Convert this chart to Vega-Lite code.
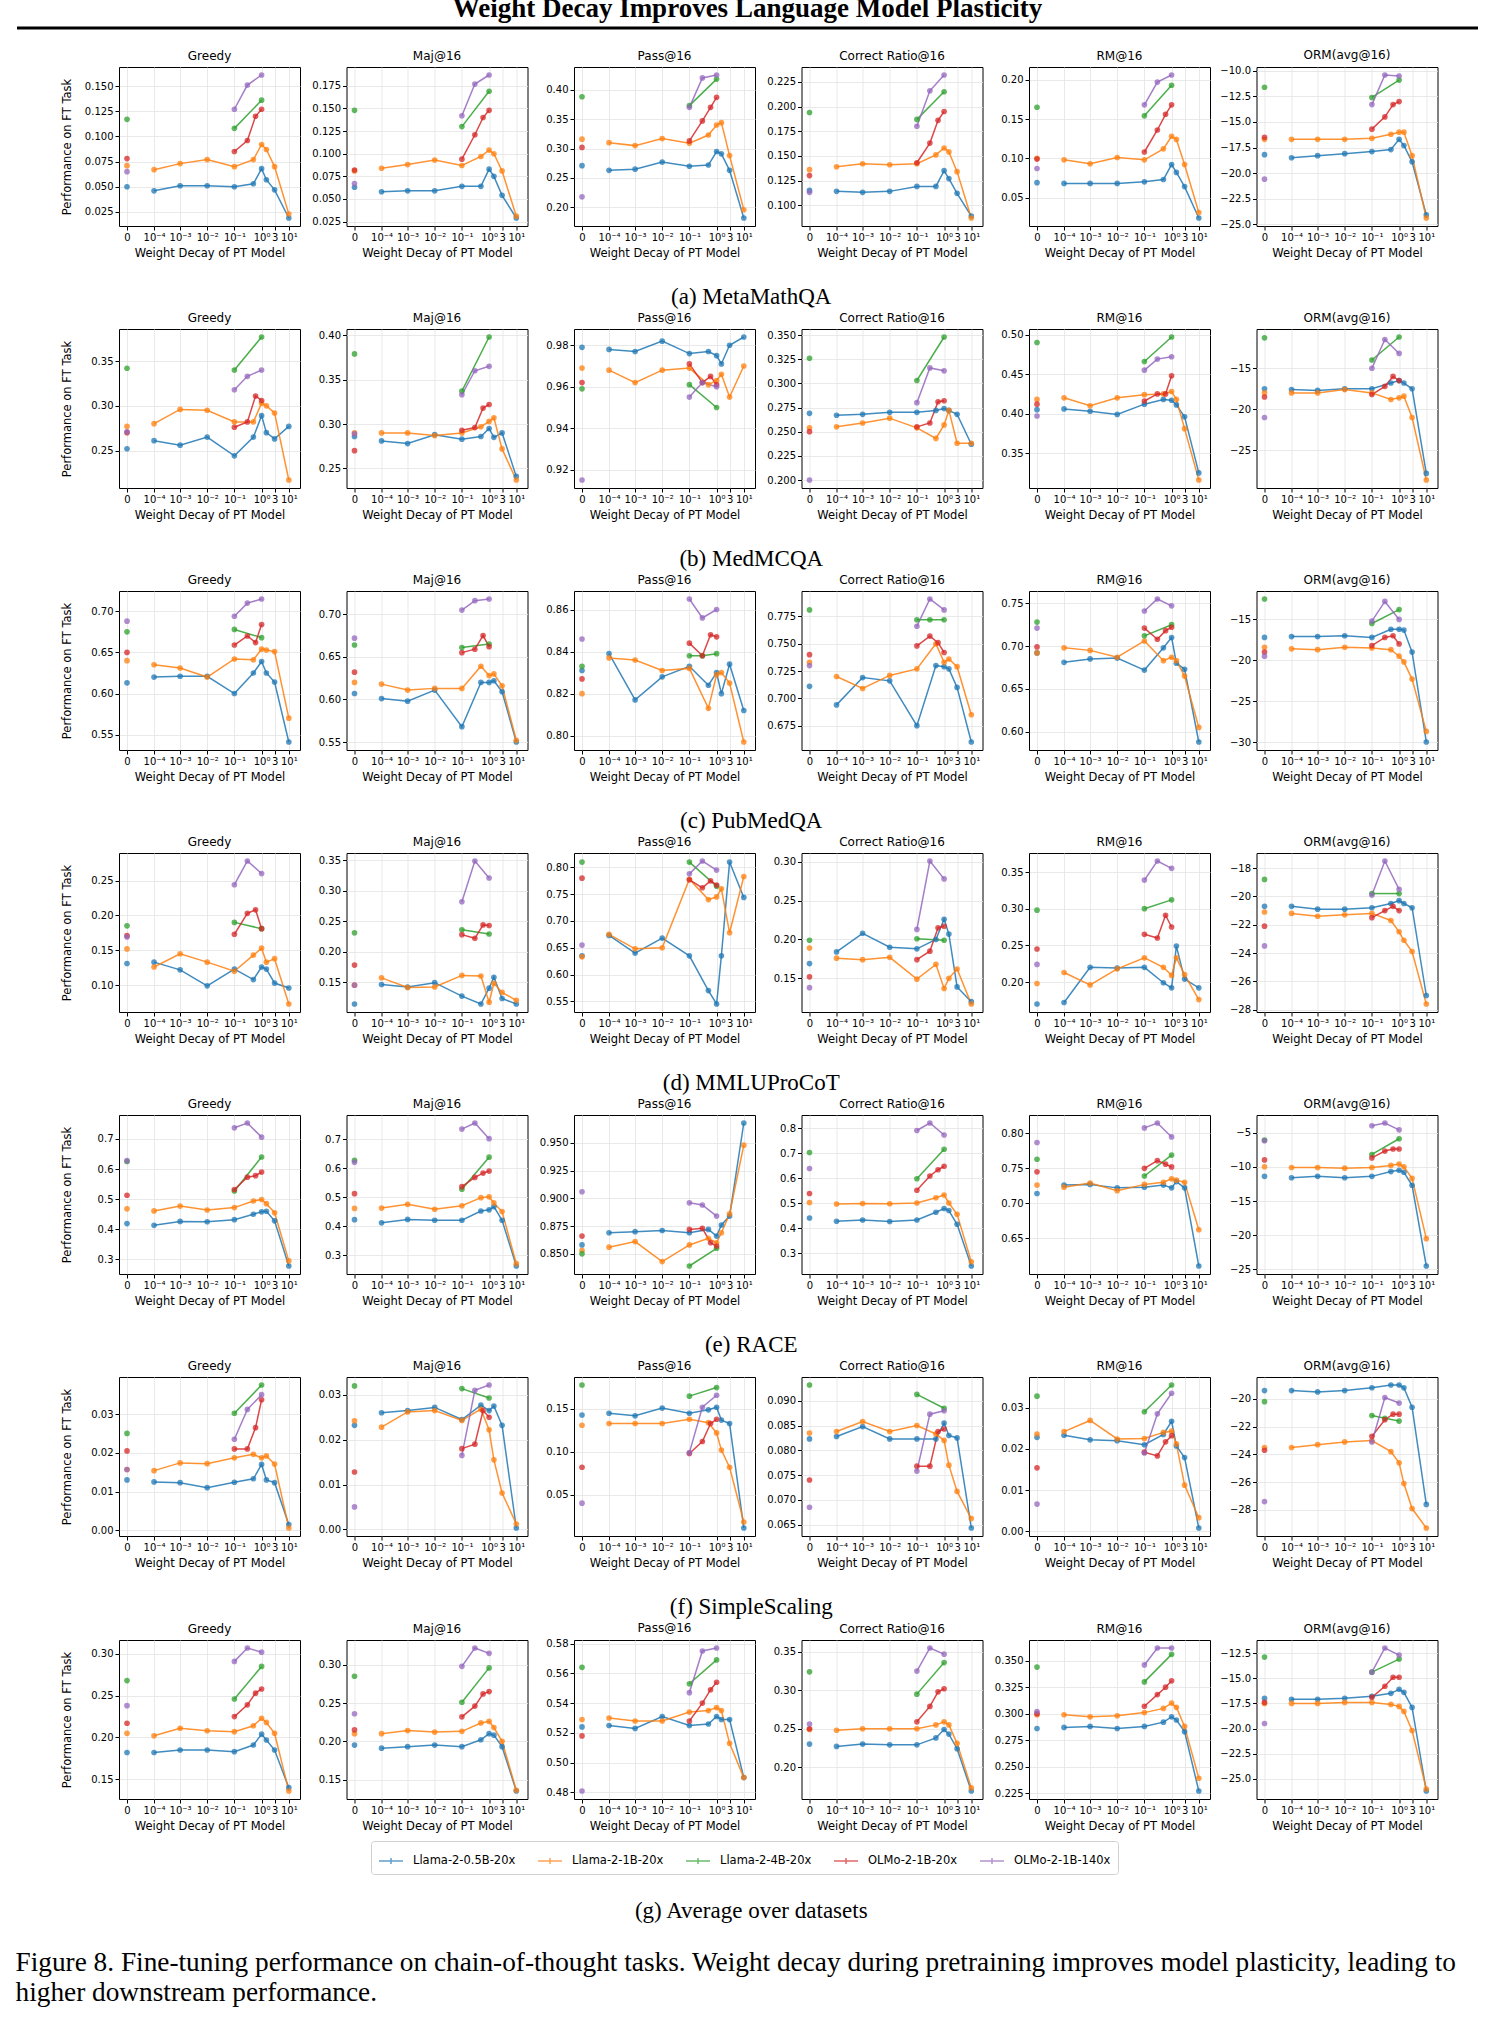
{
"$schema":"https://vega.github.io/schema/vega-lite/v6.json",
"padding":{"left":15,"top":-6,"right":8,"bottom":8},
"title":{"text":["Figure 8. Fine-tuning performance on chain-of-thought tasks. Weight decay during pretraining improves model plasticity, leading to","higher downstream performance."],"orient":"bottom","anchor":"start","frame":"bounds","font":"Liberation Serif","fontSize":27.3,"fontWeight":"normal","lineHeight":30,"offset":26,"color":"black"},
"vconcat":[{
"title":{"text":"Weight Decay Improves Language Model Plasticity","font":"Liberation Serif","fontSize":27,"fontWeight":"bold","anchor":"middle","offset":4,"color":"black"},
"spacing":2,
"vconcat":[
{"width":1461,"height":18,"data":{"values":[{}]},"mark":{"type":"rule","strokeWidth":3,"color":"black"},"encoding":{"x":{"datum":0,"type":"quantitative","scale":{"domain":[0,1]},"axis":null},"x2":{"datum":1},"y":{"datum":1,"type":"quantitative","scale":{"domain":[0,1]},"axis":null}},"view":{"stroke":null}},
{"spacing":0,"hconcat":[{"width":42.5,"height":159,"data":{"values":[]},"mark":"point","view":{"stroke":null}},
{"title":{"text":"(a) MetaMathQA","orient":"bottom","anchor":"middle","dx":2,"font":"Liberation Serif","fontSize":23,"fontWeight":"normal","offset":27,"color":"black"},"spacing":46.5,"bounds":"flush","hconcat":[
{"title":"Greedy","data":{"name":"a1"},"encoding":{"x":{"field":"w","type":"quantitative","scale":{"type":"symlog","constant":0.0000113,"domain":[-0.00001094,25.8]},"axis":{"values":[0,0.0001,0.001,0.01,0.1,1,3,10],"labelExpr":"datum.value==0?'0':datum.value==3?'3':'10'+['⁻⁴','⁻³','⁻²','⁻¹','⁰','¹'][round(log(datum.value)/LN10)+4]"},"title":"Weight Decay of PT Model"},"y":{"field":"v","type":"quantitative","scale":{"zero":false,"nice":false,"padding":8},"axis":{"values":[0.025,0.05,0.075,0.1,0.125,0.15],"format":".3f","titleX":-47},"title":"Performance on FT Task"},"color":{"field":"s","type":"nominal"}},"layer":[{"transform":[{"filter":"datum.w>0"}],"mark":"line"},{"mark":"circle"}]},
{"title":"Maj@16","data":{"name":"a2"},"encoding":{"x":{"field":"w","type":"quantitative","scale":{"type":"symlog","constant":0.0000113,"domain":[-0.00001094,25.8]},"axis":{"values":[0,0.0001,0.001,0.01,0.1,1,3,10],"labelExpr":"datum.value==0?'0':datum.value==3?'3':'10'+['⁻⁴','⁻³','⁻²','⁻¹','⁰','¹'][round(log(datum.value)/LN10)+4]"},"title":"Weight Decay of PT Model"},"y":{"field":"v","type":"quantitative","scale":{"zero":false,"nice":false,"padding":8},"axis":{"values":[0.025,0.05,0.075,0.1,0.125,0.15,0.175],"format":".3f"},"title":null},"color":{"field":"s","type":"nominal"}},"layer":[{"transform":[{"filter":"datum.w>0"}],"mark":"line"},{"mark":"circle"}]},
{"title":"Pass@16","data":{"name":"a3"},"encoding":{"x":{"field":"w","type":"quantitative","scale":{"type":"symlog","constant":0.0000113,"domain":[-0.00001094,25.8]},"axis":{"values":[0,0.0001,0.001,0.01,0.1,1,3,10],"labelExpr":"datum.value==0?'0':datum.value==3?'3':'10'+['⁻⁴','⁻³','⁻²','⁻¹','⁰','¹'][round(log(datum.value)/LN10)+4]"},"title":"Weight Decay of PT Model"},"y":{"field":"v","type":"quantitative","scale":{"zero":false,"nice":false,"padding":8},"axis":{"values":[0.2,0.25,0.3,0.35,0.4],"format":".2f"},"title":null},"color":{"field":"s","type":"nominal"}},"layer":[{"transform":[{"filter":"datum.w>0"}],"mark":"line"},{"mark":"circle"}]},
{"title":"Correct Ratio@16","data":{"name":"a4"},"encoding":{"x":{"field":"w","type":"quantitative","scale":{"type":"symlog","constant":0.0000113,"domain":[-0.00001094,25.8]},"axis":{"values":[0,0.0001,0.001,0.01,0.1,1,3,10],"labelExpr":"datum.value==0?'0':datum.value==3?'3':'10'+['⁻⁴','⁻³','⁻²','⁻¹','⁰','¹'][round(log(datum.value)/LN10)+4]"},"title":"Weight Decay of PT Model"},"y":{"field":"v","type":"quantitative","scale":{"zero":false,"nice":false,"padding":8},"axis":{"values":[0.1,0.125,0.15,0.175,0.2,0.225],"format":".3f"},"title":null},"color":{"field":"s","type":"nominal"}},"layer":[{"transform":[{"filter":"datum.w>0"}],"mark":"line"},{"mark":"circle"}]},
{"title":"RM@16","data":{"name":"a5"},"encoding":{"x":{"field":"w","type":"quantitative","scale":{"type":"symlog","constant":0.0000113,"domain":[-0.00001094,25.8]},"axis":{"values":[0,0.0001,0.001,0.01,0.1,1,3,10],"labelExpr":"datum.value==0?'0':datum.value==3?'3':'10'+['⁻⁴','⁻³','⁻²','⁻¹','⁰','¹'][round(log(datum.value)/LN10)+4]"},"title":"Weight Decay of PT Model"},"y":{"field":"v","type":"quantitative","scale":{"zero":false,"nice":false,"padding":8},"axis":{"values":[0.05,0.1,0.15,0.2],"format":".2f"},"title":null},"color":{"field":"s","type":"nominal"}},"layer":[{"transform":[{"filter":"datum.w>0"}],"mark":"line"},{"mark":"circle"}]},
{"title":"ORM(avg@16)","data":{"name":"a6"},"encoding":{"x":{"field":"w","type":"quantitative","scale":{"type":"symlog","constant":0.0000113,"domain":[-0.00001094,25.8]},"axis":{"values":[0,0.0001,0.001,0.01,0.1,1,3,10],"labelExpr":"datum.value==0?'0':datum.value==3?'3':'10'+['⁻⁴','⁻³','⁻²','⁻¹','⁰','¹'][round(log(datum.value)/LN10)+4]"},"title":"Weight Decay of PT Model"},"y":{"field":"v","type":"quantitative","scale":{"zero":false,"nice":false,"padding":8},"axis":{"values":[-25,-22.5,-20,-17.5,-15,-12.5,-10],"format":".1f"},"title":null},"color":{"field":"s","type":"nominal"}},"layer":[{"transform":[{"filter":"datum.w>0"}],"mark":"line"},{"mark":"circle"}]}
]}]},
{"spacing":0,"hconcat":[{"width":42.5,"height":159,"data":{"values":[]},"mark":"point","view":{"stroke":null}},
{"title":{"text":"(b) MedMCQA","orient":"bottom","anchor":"middle","dx":2,"font":"Liberation Serif","fontSize":23,"fontWeight":"normal","offset":27,"color":"black"},"spacing":46.5,"bounds":"flush","hconcat":[
{"title":"Greedy","data":{"name":"b1"},"encoding":{"x":{"field":"w","type":"quantitative","scale":{"type":"symlog","constant":0.0000113,"domain":[-0.00001094,25.8]},"axis":{"values":[0,0.0001,0.001,0.01,0.1,1,3,10],"labelExpr":"datum.value==0?'0':datum.value==3?'3':'10'+['⁻⁴','⁻³','⁻²','⁻¹','⁰','¹'][round(log(datum.value)/LN10)+4]"},"title":"Weight Decay of PT Model"},"y":{"field":"v","type":"quantitative","scale":{"zero":false,"nice":false,"padding":8},"axis":{"values":[0.25,0.3,0.35],"format":".2f","titleX":-47},"title":"Performance on FT Task"},"color":{"field":"s","type":"nominal"}},"layer":[{"transform":[{"filter":"datum.w>0"}],"mark":"line"},{"mark":"circle"}]},
{"title":"Maj@16","data":{"name":"b2"},"encoding":{"x":{"field":"w","type":"quantitative","scale":{"type":"symlog","constant":0.0000113,"domain":[-0.00001094,25.8]},"axis":{"values":[0,0.0001,0.001,0.01,0.1,1,3,10],"labelExpr":"datum.value==0?'0':datum.value==3?'3':'10'+['⁻⁴','⁻³','⁻²','⁻¹','⁰','¹'][round(log(datum.value)/LN10)+4]"},"title":"Weight Decay of PT Model"},"y":{"field":"v","type":"quantitative","scale":{"zero":false,"nice":false,"padding":8},"axis":{"values":[0.25,0.3,0.35,0.4],"format":".2f"},"title":null},"color":{"field":"s","type":"nominal"}},"layer":[{"transform":[{"filter":"datum.w>0"}],"mark":"line"},{"mark":"circle"}]},
{"title":"Pass@16","data":{"name":"b3"},"encoding":{"x":{"field":"w","type":"quantitative","scale":{"type":"symlog","constant":0.0000113,"domain":[-0.00001094,25.8]},"axis":{"values":[0,0.0001,0.001,0.01,0.1,1,3,10],"labelExpr":"datum.value==0?'0':datum.value==3?'3':'10'+['⁻⁴','⁻³','⁻²','⁻¹','⁰','¹'][round(log(datum.value)/LN10)+4]"},"title":"Weight Decay of PT Model"},"y":{"field":"v","type":"quantitative","scale":{"zero":false,"nice":false,"padding":8},"axis":{"values":[0.92,0.94,0.96,0.98],"format":".2f"},"title":null},"color":{"field":"s","type":"nominal"}},"layer":[{"transform":[{"filter":"datum.w>0"}],"mark":"line"},{"mark":"circle"}]},
{"title":"Correct Ratio@16","data":{"name":"b4"},"encoding":{"x":{"field":"w","type":"quantitative","scale":{"type":"symlog","constant":0.0000113,"domain":[-0.00001094,25.8]},"axis":{"values":[0,0.0001,0.001,0.01,0.1,1,3,10],"labelExpr":"datum.value==0?'0':datum.value==3?'3':'10'+['⁻⁴','⁻³','⁻²','⁻¹','⁰','¹'][round(log(datum.value)/LN10)+4]"},"title":"Weight Decay of PT Model"},"y":{"field":"v","type":"quantitative","scale":{"zero":false,"nice":false,"padding":8},"axis":{"values":[0.2,0.225,0.25,0.275,0.3,0.325,0.35],"format":".3f"},"title":null},"color":{"field":"s","type":"nominal"}},"layer":[{"transform":[{"filter":"datum.w>0"}],"mark":"line"},{"mark":"circle"}]},
{"title":"RM@16","data":{"name":"b5"},"encoding":{"x":{"field":"w","type":"quantitative","scale":{"type":"symlog","constant":0.0000113,"domain":[-0.00001094,25.8]},"axis":{"values":[0,0.0001,0.001,0.01,0.1,1,3,10],"labelExpr":"datum.value==0?'0':datum.value==3?'3':'10'+['⁻⁴','⁻³','⁻²','⁻¹','⁰','¹'][round(log(datum.value)/LN10)+4]"},"title":"Weight Decay of PT Model"},"y":{"field":"v","type":"quantitative","scale":{"zero":false,"nice":false,"padding":8},"axis":{"values":[0.35,0.4,0.45,0.5],"format":".2f"},"title":null},"color":{"field":"s","type":"nominal"}},"layer":[{"transform":[{"filter":"datum.w>0"}],"mark":"line"},{"mark":"circle"}]},
{"title":"ORM(avg@16)","data":{"name":"b6"},"encoding":{"x":{"field":"w","type":"quantitative","scale":{"type":"symlog","constant":0.0000113,"domain":[-0.00001094,25.8]},"axis":{"values":[0,0.0001,0.001,0.01,0.1,1,3,10],"labelExpr":"datum.value==0?'0':datum.value==3?'3':'10'+['⁻⁴','⁻³','⁻²','⁻¹','⁰','¹'][round(log(datum.value)/LN10)+4]"},"title":"Weight Decay of PT Model"},"y":{"field":"v","type":"quantitative","scale":{"zero":false,"nice":false,"padding":8},"axis":{"values":[-25,-20,-15],"format":"d"},"title":null},"color":{"field":"s","type":"nominal"}},"layer":[{"transform":[{"filter":"datum.w>0"}],"mark":"line"},{"mark":"circle"}]}
]}]},
{"spacing":0,"hconcat":[{"width":42.5,"height":159,"data":{"values":[]},"mark":"point","view":{"stroke":null}},
{"title":{"text":"(c) PubMedQA","orient":"bottom","anchor":"middle","dx":2,"font":"Liberation Serif","fontSize":23,"fontWeight":"normal","offset":27,"color":"black"},"spacing":46.5,"bounds":"flush","hconcat":[
{"title":"Greedy","data":{"name":"c1"},"encoding":{"x":{"field":"w","type":"quantitative","scale":{"type":"symlog","constant":0.0000113,"domain":[-0.00001094,25.8]},"axis":{"values":[0,0.0001,0.001,0.01,0.1,1,3,10],"labelExpr":"datum.value==0?'0':datum.value==3?'3':'10'+['⁻⁴','⁻³','⁻²','⁻¹','⁰','¹'][round(log(datum.value)/LN10)+4]"},"title":"Weight Decay of PT Model"},"y":{"field":"v","type":"quantitative","scale":{"zero":false,"nice":false,"padding":8},"axis":{"values":[0.55,0.6,0.65,0.7],"format":".2f","titleX":-47},"title":"Performance on FT Task"},"color":{"field":"s","type":"nominal"}},"layer":[{"transform":[{"filter":"datum.w>0"}],"mark":"line"},{"mark":"circle"}]},
{"title":"Maj@16","data":{"name":"c2"},"encoding":{"x":{"field":"w","type":"quantitative","scale":{"type":"symlog","constant":0.0000113,"domain":[-0.00001094,25.8]},"axis":{"values":[0,0.0001,0.001,0.01,0.1,1,3,10],"labelExpr":"datum.value==0?'0':datum.value==3?'3':'10'+['⁻⁴','⁻³','⁻²','⁻¹','⁰','¹'][round(log(datum.value)/LN10)+4]"},"title":"Weight Decay of PT Model"},"y":{"field":"v","type":"quantitative","scale":{"zero":false,"nice":false,"padding":8},"axis":{"values":[0.55,0.6,0.65,0.7],"format":".2f"},"title":null},"color":{"field":"s","type":"nominal"}},"layer":[{"transform":[{"filter":"datum.w>0"}],"mark":"line"},{"mark":"circle"}]},
{"title":"Pass@16","data":{"name":"c3"},"encoding":{"x":{"field":"w","type":"quantitative","scale":{"type":"symlog","constant":0.0000113,"domain":[-0.00001094,25.8]},"axis":{"values":[0,0.0001,0.001,0.01,0.1,1,3,10],"labelExpr":"datum.value==0?'0':datum.value==3?'3':'10'+['⁻⁴','⁻³','⁻²','⁻¹','⁰','¹'][round(log(datum.value)/LN10)+4]"},"title":"Weight Decay of PT Model"},"y":{"field":"v","type":"quantitative","scale":{"zero":false,"nice":false,"padding":8},"axis":{"values":[0.8,0.82,0.84,0.86],"format":".2f"},"title":null},"color":{"field":"s","type":"nominal"}},"layer":[{"transform":[{"filter":"datum.w>0"}],"mark":"line"},{"mark":"circle"}]},
{"title":"Correct Ratio@16","data":{"name":"c4"},"encoding":{"x":{"field":"w","type":"quantitative","scale":{"type":"symlog","constant":0.0000113,"domain":[-0.00001094,25.8]},"axis":{"values":[0,0.0001,0.001,0.01,0.1,1,3,10],"labelExpr":"datum.value==0?'0':datum.value==3?'3':'10'+['⁻⁴','⁻³','⁻²','⁻¹','⁰','¹'][round(log(datum.value)/LN10)+4]"},"title":"Weight Decay of PT Model"},"y":{"field":"v","type":"quantitative","scale":{"zero":false,"nice":false,"padding":8},"axis":{"values":[0.675,0.7,0.725,0.75,0.775],"format":".3f"},"title":null},"color":{"field":"s","type":"nominal"}},"layer":[{"transform":[{"filter":"datum.w>0"}],"mark":"line"},{"mark":"circle"}]},
{"title":"RM@16","data":{"name":"c5"},"encoding":{"x":{"field":"w","type":"quantitative","scale":{"type":"symlog","constant":0.0000113,"domain":[-0.00001094,25.8]},"axis":{"values":[0,0.0001,0.001,0.01,0.1,1,3,10],"labelExpr":"datum.value==0?'0':datum.value==3?'3':'10'+['⁻⁴','⁻³','⁻²','⁻¹','⁰','¹'][round(log(datum.value)/LN10)+4]"},"title":"Weight Decay of PT Model"},"y":{"field":"v","type":"quantitative","scale":{"zero":false,"nice":false,"padding":8},"axis":{"values":[0.6,0.65,0.7,0.75],"format":".2f"},"title":null},"color":{"field":"s","type":"nominal"}},"layer":[{"transform":[{"filter":"datum.w>0"}],"mark":"line"},{"mark":"circle"}]},
{"title":"ORM(avg@16)","data":{"name":"c6"},"encoding":{"x":{"field":"w","type":"quantitative","scale":{"type":"symlog","constant":0.0000113,"domain":[-0.00001094,25.8]},"axis":{"values":[0,0.0001,0.001,0.01,0.1,1,3,10],"labelExpr":"datum.value==0?'0':datum.value==3?'3':'10'+['⁻⁴','⁻³','⁻²','⁻¹','⁰','¹'][round(log(datum.value)/LN10)+4]"},"title":"Weight Decay of PT Model"},"y":{"field":"v","type":"quantitative","scale":{"zero":false,"nice":false,"padding":8},"axis":{"values":[-30,-25,-20,-15],"format":"d"},"title":null},"color":{"field":"s","type":"nominal"}},"layer":[{"transform":[{"filter":"datum.w>0"}],"mark":"line"},{"mark":"circle"}]}
]}]},
{"spacing":0,"hconcat":[{"width":42.5,"height":159,"data":{"values":[]},"mark":"point","view":{"stroke":null}},
{"title":{"text":"(d) MMLUProCoT","orient":"bottom","anchor":"middle","dx":2,"font":"Liberation Serif","fontSize":23,"fontWeight":"normal","offset":27,"color":"black"},"spacing":46.5,"bounds":"flush","hconcat":[
{"title":"Greedy","data":{"name":"d1"},"encoding":{"x":{"field":"w","type":"quantitative","scale":{"type":"symlog","constant":0.0000113,"domain":[-0.00001094,25.8]},"axis":{"values":[0,0.0001,0.001,0.01,0.1,1,3,10],"labelExpr":"datum.value==0?'0':datum.value==3?'3':'10'+['⁻⁴','⁻³','⁻²','⁻¹','⁰','¹'][round(log(datum.value)/LN10)+4]"},"title":"Weight Decay of PT Model"},"y":{"field":"v","type":"quantitative","scale":{"zero":false,"nice":false,"padding":8},"axis":{"values":[0.1,0.15,0.2,0.25],"format":".2f","titleX":-47},"title":"Performance on FT Task"},"color":{"field":"s","type":"nominal"}},"layer":[{"transform":[{"filter":"datum.w>0"}],"mark":"line"},{"mark":"circle"}]},
{"title":"Maj@16","data":{"name":"d2"},"encoding":{"x":{"field":"w","type":"quantitative","scale":{"type":"symlog","constant":0.0000113,"domain":[-0.00001094,25.8]},"axis":{"values":[0,0.0001,0.001,0.01,0.1,1,3,10],"labelExpr":"datum.value==0?'0':datum.value==3?'3':'10'+['⁻⁴','⁻³','⁻²','⁻¹','⁰','¹'][round(log(datum.value)/LN10)+4]"},"title":"Weight Decay of PT Model"},"y":{"field":"v","type":"quantitative","scale":{"zero":false,"nice":false,"padding":8},"axis":{"values":[0.15,0.2,0.25,0.3,0.35],"format":".2f"},"title":null},"color":{"field":"s","type":"nominal"}},"layer":[{"transform":[{"filter":"datum.w>0"}],"mark":"line"},{"mark":"circle"}]},
{"title":"Pass@16","data":{"name":"d3"},"encoding":{"x":{"field":"w","type":"quantitative","scale":{"type":"symlog","constant":0.0000113,"domain":[-0.00001094,25.8]},"axis":{"values":[0,0.0001,0.001,0.01,0.1,1,3,10],"labelExpr":"datum.value==0?'0':datum.value==3?'3':'10'+['⁻⁴','⁻³','⁻²','⁻¹','⁰','¹'][round(log(datum.value)/LN10)+4]"},"title":"Weight Decay of PT Model"},"y":{"field":"v","type":"quantitative","scale":{"zero":false,"nice":false,"padding":8},"axis":{"values":[0.55,0.6,0.65,0.7,0.75,0.8],"format":".2f"},"title":null},"color":{"field":"s","type":"nominal"}},"layer":[{"transform":[{"filter":"datum.w>0"}],"mark":"line"},{"mark":"circle"}]},
{"title":"Correct Ratio@16","data":{"name":"d4"},"encoding":{"x":{"field":"w","type":"quantitative","scale":{"type":"symlog","constant":0.0000113,"domain":[-0.00001094,25.8]},"axis":{"values":[0,0.0001,0.001,0.01,0.1,1,3,10],"labelExpr":"datum.value==0?'0':datum.value==3?'3':'10'+['⁻⁴','⁻³','⁻²','⁻¹','⁰','¹'][round(log(datum.value)/LN10)+4]"},"title":"Weight Decay of PT Model"},"y":{"field":"v","type":"quantitative","scale":{"zero":false,"nice":false,"padding":8},"axis":{"values":[0.15,0.2,0.25,0.3],"format":".2f"},"title":null},"color":{"field":"s","type":"nominal"}},"layer":[{"transform":[{"filter":"datum.w>0"}],"mark":"line"},{"mark":"circle"}]},
{"title":"RM@16","data":{"name":"d5"},"encoding":{"x":{"field":"w","type":"quantitative","scale":{"type":"symlog","constant":0.0000113,"domain":[-0.00001094,25.8]},"axis":{"values":[0,0.0001,0.001,0.01,0.1,1,3,10],"labelExpr":"datum.value==0?'0':datum.value==3?'3':'10'+['⁻⁴','⁻³','⁻²','⁻¹','⁰','¹'][round(log(datum.value)/LN10)+4]"},"title":"Weight Decay of PT Model"},"y":{"field":"v","type":"quantitative","scale":{"zero":false,"nice":false,"padding":8},"axis":{"values":[0.2,0.25,0.3,0.35],"format":".2f"},"title":null},"color":{"field":"s","type":"nominal"}},"layer":[{"transform":[{"filter":"datum.w>0"}],"mark":"line"},{"mark":"circle"}]},
{"title":"ORM(avg@16)","data":{"name":"d6"},"encoding":{"x":{"field":"w","type":"quantitative","scale":{"type":"symlog","constant":0.0000113,"domain":[-0.00001094,25.8]},"axis":{"values":[0,0.0001,0.001,0.01,0.1,1,3,10],"labelExpr":"datum.value==0?'0':datum.value==3?'3':'10'+['⁻⁴','⁻³','⁻²','⁻¹','⁰','¹'][round(log(datum.value)/LN10)+4]"},"title":"Weight Decay of PT Model"},"y":{"field":"v","type":"quantitative","scale":{"zero":false,"nice":false,"padding":8},"axis":{"values":[-28,-26,-24,-22,-20,-18],"format":"d"},"title":null},"color":{"field":"s","type":"nominal"}},"layer":[{"transform":[{"filter":"datum.w>0"}],"mark":"line"},{"mark":"circle"}]}
]}]},
{"spacing":0,"hconcat":[{"width":42.5,"height":159,"data":{"values":[]},"mark":"point","view":{"stroke":null}},
{"title":{"text":"(e) RACE","orient":"bottom","anchor":"middle","dx":2,"font":"Liberation Serif","fontSize":23,"fontWeight":"normal","offset":27,"color":"black"},"spacing":46.5,"bounds":"flush","hconcat":[
{"title":"Greedy","data":{"name":"e1"},"encoding":{"x":{"field":"w","type":"quantitative","scale":{"type":"symlog","constant":0.0000113,"domain":[-0.00001094,25.8]},"axis":{"values":[0,0.0001,0.001,0.01,0.1,1,3,10],"labelExpr":"datum.value==0?'0':datum.value==3?'3':'10'+['⁻⁴','⁻³','⁻²','⁻¹','⁰','¹'][round(log(datum.value)/LN10)+4]"},"title":"Weight Decay of PT Model"},"y":{"field":"v","type":"quantitative","scale":{"zero":false,"nice":false,"padding":8},"axis":{"values":[0.3,0.4,0.5,0.6,0.7],"format":".1f","titleX":-47},"title":"Performance on FT Task"},"color":{"field":"s","type":"nominal"}},"layer":[{"transform":[{"filter":"datum.w>0"}],"mark":"line"},{"mark":"circle"}]},
{"title":"Maj@16","data":{"name":"e2"},"encoding":{"x":{"field":"w","type":"quantitative","scale":{"type":"symlog","constant":0.0000113,"domain":[-0.00001094,25.8]},"axis":{"values":[0,0.0001,0.001,0.01,0.1,1,3,10],"labelExpr":"datum.value==0?'0':datum.value==3?'3':'10'+['⁻⁴','⁻³','⁻²','⁻¹','⁰','¹'][round(log(datum.value)/LN10)+4]"},"title":"Weight Decay of PT Model"},"y":{"field":"v","type":"quantitative","scale":{"zero":false,"nice":false,"padding":8},"axis":{"values":[0.3,0.4,0.5,0.6,0.7],"format":".1f"},"title":null},"color":{"field":"s","type":"nominal"}},"layer":[{"transform":[{"filter":"datum.w>0"}],"mark":"line"},{"mark":"circle"}]},
{"title":"Pass@16","data":{"name":"e3"},"encoding":{"x":{"field":"w","type":"quantitative","scale":{"type":"symlog","constant":0.0000113,"domain":[-0.00001094,25.8]},"axis":{"values":[0,0.0001,0.001,0.01,0.1,1,3,10],"labelExpr":"datum.value==0?'0':datum.value==3?'3':'10'+['⁻⁴','⁻³','⁻²','⁻¹','⁰','¹'][round(log(datum.value)/LN10)+4]"},"title":"Weight Decay of PT Model"},"y":{"field":"v","type":"quantitative","scale":{"zero":false,"nice":false,"padding":8},"axis":{"values":[0.85,0.875,0.9,0.925,0.95],"format":".3f"},"title":null},"color":{"field":"s","type":"nominal"}},"layer":[{"transform":[{"filter":"datum.w>0"}],"mark":"line"},{"mark":"circle"}]},
{"title":"Correct Ratio@16","data":{"name":"e4"},"encoding":{"x":{"field":"w","type":"quantitative","scale":{"type":"symlog","constant":0.0000113,"domain":[-0.00001094,25.8]},"axis":{"values":[0,0.0001,0.001,0.01,0.1,1,3,10],"labelExpr":"datum.value==0?'0':datum.value==3?'3':'10'+['⁻⁴','⁻³','⁻²','⁻¹','⁰','¹'][round(log(datum.value)/LN10)+4]"},"title":"Weight Decay of PT Model"},"y":{"field":"v","type":"quantitative","scale":{"zero":false,"nice":false,"padding":8},"axis":{"values":[0.3,0.4,0.5,0.6,0.7,0.8],"format":".1f"},"title":null},"color":{"field":"s","type":"nominal"}},"layer":[{"transform":[{"filter":"datum.w>0"}],"mark":"line"},{"mark":"circle"}]},
{"title":"RM@16","data":{"name":"e5"},"encoding":{"x":{"field":"w","type":"quantitative","scale":{"type":"symlog","constant":0.0000113,"domain":[-0.00001094,25.8]},"axis":{"values":[0,0.0001,0.001,0.01,0.1,1,3,10],"labelExpr":"datum.value==0?'0':datum.value==3?'3':'10'+['⁻⁴','⁻³','⁻²','⁻¹','⁰','¹'][round(log(datum.value)/LN10)+4]"},"title":"Weight Decay of PT Model"},"y":{"field":"v","type":"quantitative","scale":{"zero":false,"nice":false,"padding":8},"axis":{"values":[0.65,0.7,0.75,0.8],"format":".2f"},"title":null},"color":{"field":"s","type":"nominal"}},"layer":[{"transform":[{"filter":"datum.w>0"}],"mark":"line"},{"mark":"circle"}]},
{"title":"ORM(avg@16)","data":{"name":"e6"},"encoding":{"x":{"field":"w","type":"quantitative","scale":{"type":"symlog","constant":0.0000113,"domain":[-0.00001094,25.8]},"axis":{"values":[0,0.0001,0.001,0.01,0.1,1,3,10],"labelExpr":"datum.value==0?'0':datum.value==3?'3':'10'+['⁻⁴','⁻³','⁻²','⁻¹','⁰','¹'][round(log(datum.value)/LN10)+4]"},"title":"Weight Decay of PT Model"},"y":{"field":"v","type":"quantitative","scale":{"zero":false,"nice":false,"padding":8},"axis":{"values":[-25,-20,-15,-10,-5],"format":"d"},"title":null},"color":{"field":"s","type":"nominal"}},"layer":[{"transform":[{"filter":"datum.w>0"}],"mark":"line"},{"mark":"circle"}]}
]}]},
{"spacing":0,"hconcat":[{"width":42.5,"height":159,"data":{"values":[]},"mark":"point","view":{"stroke":null}},
{"title":{"text":"(f) SimpleScaling","orient":"bottom","anchor":"middle","dx":2,"font":"Liberation Serif","fontSize":23,"fontWeight":"normal","offset":27,"color":"black"},"spacing":46.5,"bounds":"flush","hconcat":[
{"title":"Greedy","data":{"name":"f1"},"encoding":{"x":{"field":"w","type":"quantitative","scale":{"type":"symlog","constant":0.0000113,"domain":[-0.00001094,25.8]},"axis":{"values":[0,0.0001,0.001,0.01,0.1,1,3,10],"labelExpr":"datum.value==0?'0':datum.value==3?'3':'10'+['⁻⁴','⁻³','⁻²','⁻¹','⁰','¹'][round(log(datum.value)/LN10)+4]"},"title":"Weight Decay of PT Model"},"y":{"field":"v","type":"quantitative","scale":{"zero":false,"nice":false,"padding":8},"axis":{"values":[0,0.01,0.02,0.03],"format":".2f","titleX":-47},"title":"Performance on FT Task"},"color":{"field":"s","type":"nominal"}},"layer":[{"transform":[{"filter":"datum.w>0"}],"mark":"line"},{"mark":"circle"}]},
{"title":"Maj@16","data":{"name":"f2"},"encoding":{"x":{"field":"w","type":"quantitative","scale":{"type":"symlog","constant":0.0000113,"domain":[-0.00001094,25.8]},"axis":{"values":[0,0.0001,0.001,0.01,0.1,1,3,10],"labelExpr":"datum.value==0?'0':datum.value==3?'3':'10'+['⁻⁴','⁻³','⁻²','⁻¹','⁰','¹'][round(log(datum.value)/LN10)+4]"},"title":"Weight Decay of PT Model"},"y":{"field":"v","type":"quantitative","scale":{"zero":false,"nice":false,"padding":8},"axis":{"values":[0,0.01,0.02,0.03],"format":".2f"},"title":null},"color":{"field":"s","type":"nominal"}},"layer":[{"transform":[{"filter":"datum.w>0"}],"mark":"line"},{"mark":"circle"}]},
{"title":"Pass@16","data":{"name":"f3"},"encoding":{"x":{"field":"w","type":"quantitative","scale":{"type":"symlog","constant":0.0000113,"domain":[-0.00001094,25.8]},"axis":{"values":[0,0.0001,0.001,0.01,0.1,1,3,10],"labelExpr":"datum.value==0?'0':datum.value==3?'3':'10'+['⁻⁴','⁻³','⁻²','⁻¹','⁰','¹'][round(log(datum.value)/LN10)+4]"},"title":"Weight Decay of PT Model"},"y":{"field":"v","type":"quantitative","scale":{"zero":false,"nice":false,"padding":8},"axis":{"values":[0.05,0.1,0.15],"format":".2f"},"title":null},"color":{"field":"s","type":"nominal"}},"layer":[{"transform":[{"filter":"datum.w>0"}],"mark":"line"},{"mark":"circle"}]},
{"title":"Correct Ratio@16","data":{"name":"f4"},"encoding":{"x":{"field":"w","type":"quantitative","scale":{"type":"symlog","constant":0.0000113,"domain":[-0.00001094,25.8]},"axis":{"values":[0,0.0001,0.001,0.01,0.1,1,3,10],"labelExpr":"datum.value==0?'0':datum.value==3?'3':'10'+['⁻⁴','⁻³','⁻²','⁻¹','⁰','¹'][round(log(datum.value)/LN10)+4]"},"title":"Weight Decay of PT Model"},"y":{"field":"v","type":"quantitative","scale":{"zero":false,"nice":false,"padding":8},"axis":{"values":[0.065,0.07,0.075,0.08,0.085,0.09],"format":".3f"},"title":null},"color":{"field":"s","type":"nominal"}},"layer":[{"transform":[{"filter":"datum.w>0"}],"mark":"line"},{"mark":"circle"}]},
{"title":"RM@16","data":{"name":"f5"},"encoding":{"x":{"field":"w","type":"quantitative","scale":{"type":"symlog","constant":0.0000113,"domain":[-0.00001094,25.8]},"axis":{"values":[0,0.0001,0.001,0.01,0.1,1,3,10],"labelExpr":"datum.value==0?'0':datum.value==3?'3':'10'+['⁻⁴','⁻³','⁻²','⁻¹','⁰','¹'][round(log(datum.value)/LN10)+4]"},"title":"Weight Decay of PT Model"},"y":{"field":"v","type":"quantitative","scale":{"zero":false,"nice":false,"padding":8},"axis":{"values":[0,0.01,0.02,0.03],"format":".2f"},"title":null},"color":{"field":"s","type":"nominal"}},"layer":[{"transform":[{"filter":"datum.w>0"}],"mark":"line"},{"mark":"circle"}]},
{"title":"ORM(avg@16)","data":{"name":"f6"},"encoding":{"x":{"field":"w","type":"quantitative","scale":{"type":"symlog","constant":0.0000113,"domain":[-0.00001094,25.8]},"axis":{"values":[0,0.0001,0.001,0.01,0.1,1,3,10],"labelExpr":"datum.value==0?'0':datum.value==3?'3':'10'+['⁻⁴','⁻³','⁻²','⁻¹','⁰','¹'][round(log(datum.value)/LN10)+4]"},"title":"Weight Decay of PT Model"},"y":{"field":"v","type":"quantitative","scale":{"zero":false,"nice":false,"padding":8},"axis":{"values":[-28,-26,-24,-22,-20],"format":"d"},"title":null},"color":{"field":"s","type":"nominal"}},"layer":[{"transform":[{"filter":"datum.w>0"}],"mark":"line"},{"mark":"circle"}]}
]}]},
{"spacing":0,"hconcat":[{"width":42.5,"height":159,"data":{"values":[]},"mark":"point","view":{"stroke":null}},
{"title":{"text":"(g) Average over datasets","orient":"bottom","anchor":"middle","dx":2,"font":"Liberation Serif","fontSize":23,"fontWeight":"normal","offset":68,"color":"black"},"spacing":46.5,"bounds":"flush","hconcat":[
{"title":"Greedy","data":{"name":"g1"},"encoding":{"x":{"field":"w","type":"quantitative","scale":{"type":"symlog","constant":0.0000113,"domain":[-0.00001094,25.8]},"axis":{"values":[0,0.0001,0.001,0.01,0.1,1,3,10],"labelExpr":"datum.value==0?'0':datum.value==3?'3':'10'+['⁻⁴','⁻³','⁻²','⁻¹','⁰','¹'][round(log(datum.value)/LN10)+4]"},"title":"Weight Decay of PT Model"},"y":{"field":"v","type":"quantitative","scale":{"zero":false,"nice":false,"padding":8},"axis":{"values":[0.15,0.2,0.25,0.3],"format":".2f","titleX":-47},"title":"Performance on FT Task"},"color":{"field":"s","type":"nominal","legend":{"orient":"none","legendX":354,"legendY":1813,"direction":"horizontal","columns":5,"title":null,"labelExpr":"['Llama-2-0.5B-20x','Llama-2-1B-20x','Llama-2-4B-20x','OLMo-2-1B-20x','OLMo-2-1B-140x'][indexof(['A','B','C','D','E'],datum.label)]","symbolType":"M-1,0H1M0,-0.25V0.25","symbolSize":576,"symbolStrokeWidth":1.5,"symbolOpacity":0.7,"labelFont":"DejaVu Sans","labelFontSize":11.5,"labelColor":"black","strokeColor":"#d0d0d0","padding":7,"cornerRadius":3,"columnPadding":19,"labelOffset":9}}},"layer":[{"transform":[{"filter":"datum.w>0"}],"mark":"line"},{"mark":"circle"}]},
{"title":"Maj@16","data":{"name":"g2"},"encoding":{"x":{"field":"w","type":"quantitative","scale":{"type":"symlog","constant":0.0000113,"domain":[-0.00001094,25.8]},"axis":{"values":[0,0.0001,0.001,0.01,0.1,1,3,10],"labelExpr":"datum.value==0?'0':datum.value==3?'3':'10'+['⁻⁴','⁻³','⁻²','⁻¹','⁰','¹'][round(log(datum.value)/LN10)+4]"},"title":"Weight Decay of PT Model"},"y":{"field":"v","type":"quantitative","scale":{"zero":false,"nice":false,"padding":8},"axis":{"values":[0.15,0.2,0.25,0.3],"format":".2f"},"title":null},"color":{"field":"s","type":"nominal"}},"layer":[{"transform":[{"filter":"datum.w>0"}],"mark":"line"},{"mark":"circle"}]},
{"title":"Pass@16","data":{"name":"g3"},"encoding":{"x":{"field":"w","type":"quantitative","scale":{"type":"symlog","constant":0.0000113,"domain":[-0.00001094,25.8]},"axis":{"values":[0,0.0001,0.001,0.01,0.1,1,3,10],"labelExpr":"datum.value==0?'0':datum.value==3?'3':'10'+['⁻⁴','⁻³','⁻²','⁻¹','⁰','¹'][round(log(datum.value)/LN10)+4]"},"title":"Weight Decay of PT Model"},"y":{"field":"v","type":"quantitative","scale":{"zero":false,"nice":false,"padding":8},"axis":{"values":[0.48,0.5,0.52,0.54,0.56,0.58],"format":".2f"},"title":null},"color":{"field":"s","type":"nominal"}},"layer":[{"transform":[{"filter":"datum.w>0"}],"mark":"line"},{"mark":"circle"}]},
{"title":"Correct Ratio@16","data":{"name":"g4"},"encoding":{"x":{"field":"w","type":"quantitative","scale":{"type":"symlog","constant":0.0000113,"domain":[-0.00001094,25.8]},"axis":{"values":[0,0.0001,0.001,0.01,0.1,1,3,10],"labelExpr":"datum.value==0?'0':datum.value==3?'3':'10'+['⁻⁴','⁻³','⁻²','⁻¹','⁰','¹'][round(log(datum.value)/LN10)+4]"},"title":"Weight Decay of PT Model"},"y":{"field":"v","type":"quantitative","scale":{"zero":false,"nice":false,"padding":8},"axis":{"values":[0.2,0.25,0.3,0.35],"format":".2f"},"title":null},"color":{"field":"s","type":"nominal"}},"layer":[{"transform":[{"filter":"datum.w>0"}],"mark":"line"},{"mark":"circle"}]},
{"title":"RM@16","data":{"name":"g5"},"encoding":{"x":{"field":"w","type":"quantitative","scale":{"type":"symlog","constant":0.0000113,"domain":[-0.00001094,25.8]},"axis":{"values":[0,0.0001,0.001,0.01,0.1,1,3,10],"labelExpr":"datum.value==0?'0':datum.value==3?'3':'10'+['⁻⁴','⁻³','⁻²','⁻¹','⁰','¹'][round(log(datum.value)/LN10)+4]"},"title":"Weight Decay of PT Model"},"y":{"field":"v","type":"quantitative","scale":{"zero":false,"nice":false,"padding":8},"axis":{"values":[0.225,0.25,0.275,0.3,0.325,0.35],"format":".3f"},"title":null},"color":{"field":"s","type":"nominal"}},"layer":[{"transform":[{"filter":"datum.w>0"}],"mark":"line"},{"mark":"circle"}]},
{"title":"ORM(avg@16)","data":{"name":"g6"},"encoding":{"x":{"field":"w","type":"quantitative","scale":{"type":"symlog","constant":0.0000113,"domain":[-0.00001094,25.8]},"axis":{"values":[0,0.0001,0.001,0.01,0.1,1,3,10],"labelExpr":"datum.value==0?'0':datum.value==3?'3':'10'+['⁻⁴','⁻³','⁻²','⁻¹','⁰','¹'][round(log(datum.value)/LN10)+4]"},"title":"Weight Decay of PT Model"},"y":{"field":"v","type":"quantitative","scale":{"zero":false,"nice":false,"padding":8},"axis":{"values":[-25,-22.5,-20,-17.5,-15,-12.5],"format":".1f"},"title":null},"color":{"field":"s","type":"nominal"}},"layer":[{"transform":[{"filter":"datum.w>0"}],"mark":"line"},{"mark":"circle"}]}
]}]}
]}],
"config":{
"view":{"continuousWidth":181,"continuousHeight":159,"stroke":"black","strokeWidth":1},
"range":{"category":{"scheme":"category10"}},
"font":"DejaVu Sans",
"axis":{"labelFont":"DejaVu Sans","labelFontSize":10,"labelColor":"black","titleFont":"DejaVu Sans","titleFontSize":11.5,"titleFontWeight":"normal","titleColor":"black","domain":false,"tickColor":"black","tickSize":4,"gridColor":"#e3e3e3","gridWidth":0.8,"labelOverlap":false,"labelFlush":false,"labelPadding":2},
"axisX":{"titlePadding":5},
"axisY":{"titlePadding":6},
"title":{"font":"DejaVu Sans","fontSize":12,"fontWeight":"normal","color":"black","offset":4},
"line":{"strokeWidth":1.5,"opacity":0.85},
"circle":{"size":32,"opacity":0.75}
},
"datasets":{
"a1":[{"s":"A","w":0,"v":0.050},{"s":"A","w":0.0001,"v":0.046},{"s":"A","w":0.001,"v":0.051},{"s":"A","w":0.01,"v":0.051},{"s":"A","w":0.1,"v":0.050},{"s":"A","w":0.5,"v":0.053},{"s":"A","w":1,"v":0.068},{"s":"A","w":1.5,"v":0.057},{"s":"A","w":3,"v":0.047},{"s":"A","w":10,"v":0.019},
{"s":"B","w":0,"v":0.071},{"s":"B","w":0.0001,"v":0.067},{"s":"B","w":0.001,"v":0.073},{"s":"B","w":0.01,"v":0.077},{"s":"B","w":0.1,"v":0.070},{"s":"B","w":0.5,"v":0.077},{"s":"B","w":1,"v":0.092},{"s":"B","w":1.5,"v":0.087},{"s":"B","w":3,"v":0.070},{"s":"B","w":10,"v":0.023},
{"s":"C","w":0,"v":0.117},{"s":"C","w":0.1,"v":0.108},{"s":"C","w":1,"v":0.136},
{"s":"D","w":0,"v":0.078},{"s":"D","w":0.1,"v":0.085},{"s":"D","w":0.3,"v":0.096},{"s":"D","w":0.6,"v":0.120},{"s":"D","w":1,"v":0.127},
{"s":"E","w":0,"v":0.065},{"s":"E","w":0.1,"v":0.127},{"s":"E","w":0.3,"v":0.151},{"s":"E","w":1,"v":0.161}],
"a2":[{"s":"A","w":0,"v":0.063},{"s":"A","w":0.0001,"v":0.058},{"s":"A","w":0.001,"v":0.059},{"s":"A","w":0.01,"v":0.059},{"s":"A","w":0.1,"v":0.064},{"s":"A","w":0.5,"v":0.064},{"s":"A","w":1,"v":0.083},{"s":"A","w":1.5,"v":0.075},{"s":"A","w":3,"v":0.054},{"s":"A","w":10,"v":0.029},
{"s":"B","w":0,"v":0.081},{"s":"B","w":0.0001,"v":0.084},{"s":"B","w":0.001,"v":0.088},{"s":"B","w":0.01,"v":0.093},{"s":"B","w":0.1,"v":0.087},{"s":"B","w":0.5,"v":0.097},{"s":"B","w":1,"v":0.104},{"s":"B","w":1.5,"v":0.100},{"s":"B","w":3,"v":0.081},{"s":"B","w":10,"v":0.031},
{"s":"C","w":0,"v":0.148},{"s":"C","w":0.1,"v":0.130},{"s":"C","w":1,"v":0.169},
{"s":"D","w":0,"v":0.082},{"s":"D","w":0.1,"v":0.094},{"s":"D","w":0.3,"v":0.121},{"s":"D","w":0.6,"v":0.140},{"s":"D","w":1,"v":0.148},
{"s":"E","w":0,"v":0.067},{"s":"E","w":0.1,"v":0.142},{"s":"E","w":0.3,"v":0.177},{"s":"E","w":1,"v":0.187}],
"a3":[{"s":"A","w":0,"v":0.271},{"s":"A","w":0.0001,"v":0.263},{"s":"A","w":0.001,"v":0.265},{"s":"A","w":0.01,"v":0.277},{"s":"A","w":0.1,"v":0.270},{"s":"A","w":0.5,"v":0.272},{"s":"A","w":1,"v":0.295},{"s":"A","w":1.5,"v":0.291},{"s":"A","w":3,"v":0.263},{"s":"A","w":10,"v":0.182},
{"s":"B","w":0,"v":0.316},{"s":"B","w":0.0001,"v":0.310},{"s":"B","w":0.001,"v":0.305},{"s":"B","w":0.01,"v":0.317},{"s":"B","w":0.1,"v":0.309},{"s":"B","w":0.5,"v":0.323},{"s":"B","w":1,"v":0.340},{"s":"B","w":1.5,"v":0.344},{"s":"B","w":3,"v":0.288},{"s":"B","w":10,"v":0.196},
{"s":"C","w":0,"v":0.388},{"s":"C","w":0.1,"v":0.373},{"s":"C","w":1,"v":0.418},
{"s":"D","w":0,"v":0.302},{"s":"D","w":0.1,"v":0.313},{"s":"D","w":0.3,"v":0.347},{"s":"D","w":0.6,"v":0.370},{"s":"D","w":1,"v":0.387},
{"s":"E","w":0,"v":0.218},{"s":"E","w":0.1,"v":0.370},{"s":"E","w":0.3,"v":0.420},{"s":"E","w":1,"v":0.425}],
"a4":[{"s":"A","w":0,"v":0.115},{"s":"A","w":0.0001,"v":0.114},{"s":"A","w":0.001,"v":0.113},{"s":"A","w":0.01,"v":0.114},{"s":"A","w":0.1,"v":0.119},{"s":"A","w":0.5,"v":0.119},{"s":"A","w":1,"v":0.135},{"s":"A","w":1.5,"v":0.127},{"s":"A","w":3,"v":0.112},{"s":"A","w":10,"v":0.089},
{"s":"B","w":0,"v":0.136},{"s":"B","w":0.0001,"v":0.139},{"s":"B","w":0.001,"v":0.142},{"s":"B","w":0.01,"v":0.141},{"s":"B","w":0.1,"v":0.142},{"s":"B","w":0.5,"v":0.151},{"s":"B","w":1,"v":0.158},{"s":"B","w":1.5,"v":0.154},{"s":"B","w":3,"v":0.134},{"s":"B","w":10,"v":0.087},
{"s":"C","w":0,"v":0.194},{"s":"C","w":0.1,"v":0.187},{"s":"C","w":1,"v":0.215},
{"s":"D","w":0,"v":0.130},{"s":"D","w":0.1,"v":0.143},{"s":"D","w":0.3,"v":0.163},{"s":"D","w":0.6,"v":0.186},{"s":"D","w":1,"v":0.195},
{"s":"E","w":0,"v":0.113},{"s":"E","w":0.1,"v":0.180},{"s":"E","w":0.3,"v":0.216},{"s":"E","w":1,"v":0.232}],
"a5":[{"s":"A","w":0,"v":0.069},{"s":"A","w":0.0001,"v":0.068},{"s":"A","w":0.001,"v":0.068},{"s":"A","w":0.01,"v":0.068},{"s":"A","w":0.1,"v":0.070},{"s":"A","w":0.5,"v":0.073},{"s":"A","w":1,"v":0.092},{"s":"A","w":1.5,"v":0.082},{"s":"A","w":3,"v":0.064},{"s":"A","w":10,"v":0.024},
{"s":"B","w":0,"v":0.100},{"s":"B","w":0.0001,"v":0.098},{"s":"B","w":0.001,"v":0.093},{"s":"B","w":0.01,"v":0.101},{"s":"B","w":0.1,"v":0.098},{"s":"B","w":0.5,"v":0.112},{"s":"B","w":1,"v":0.128},{"s":"B","w":1.5,"v":0.124},{"s":"B","w":3,"v":0.092},{"s":"B","w":10,"v":0.031},
{"s":"C","w":0,"v":0.165},{"s":"C","w":0.1,"v":0.154},{"s":"C","w":1,"v":0.193},
{"s":"D","w":0,"v":0.099},{"s":"D","w":0.1,"v":0.108},{"s":"D","w":0.3,"v":0.136},{"s":"D","w":0.6,"v":0.156},{"s":"D","w":1,"v":0.168},
{"s":"E","w":0,"v":0.087},{"s":"E","w":0.1,"v":0.168},{"s":"E","w":0.3,"v":0.197},{"s":"E","w":1,"v":0.206}],
"a6":[{"s":"A","w":0,"v":-18.2},{"s":"A","w":0.0001,"v":-18.5},{"s":"A","w":0.001,"v":-18.3},{"s":"A","w":0.01,"v":-18.1},{"s":"A","w":0.1,"v":-17.9},{"s":"A","w":0.5,"v":-17.7},{"s":"A","w":1,"v":-16.7},{"s":"A","w":1.5,"v":-17.3},{"s":"A","w":3,"v":-18.9},{"s":"A","w":10,"v":-24.1},
{"s":"B","w":0,"v":-16.7},{"s":"B","w":0.0001,"v":-16.7},{"s":"B","w":0.001,"v":-16.7},{"s":"B","w":0.01,"v":-16.7},{"s":"B","w":0.1,"v":-16.6},{"s":"B","w":0.5,"v":-16.2},{"s":"B","w":1,"v":-16.0},{"s":"B","w":1.5,"v":-16.0},{"s":"B","w":3,"v":-18.3},{"s":"B","w":10,"v":-24.4},
{"s":"C","w":0,"v":-11.6},{"s":"C","w":0.1,"v":-12.6},{"s":"C","w":1,"v":-10.9},
{"s":"D","w":0,"v":-16.5},{"s":"D","w":0.1,"v":-15.7},{"s":"D","w":0.3,"v":-14.5},{"s":"D","w":0.6,"v":-13.3},{"s":"D","w":1,"v":-13.0},
{"s":"E","w":0,"v":-20.6},{"s":"E","w":0.1,"v":-13.3},{"s":"E","w":0.3,"v":-10.4},{"s":"E","w":1,"v":-10.5}],
"b1":[{"s":"A","w":0,"v":0.252},{"s":"A","w":0.0001,"v":0.261},{"s":"A","w":0.001,"v":0.256},{"s":"A","w":0.01,"v":0.265},{"s":"A","w":0.1,"v":0.244},{"s":"A","w":0.5,"v":0.265},{"s":"A","w":1,"v":0.289},{"s":"A","w":1.5,"v":0.270},{"s":"A","w":3,"v":0.263},{"s":"A","w":10,"v":0.277},
{"s":"B","w":0,"v":0.277},{"s":"B","w":0.0001,"v":0.280},{"s":"B","w":0.001,"v":0.296},{"s":"B","w":0.01,"v":0.295},{"s":"B","w":0.1,"v":0.282},{"s":"B","w":0.5,"v":0.282},{"s":"B","w":1,"v":0.303},{"s":"B","w":1.5,"v":0.300},{"s":"B","w":3,"v":0.292},{"s":"B","w":10,"v":0.217},
{"s":"C","w":0,"v":0.342},{"s":"C","w":0.1,"v":0.340},{"s":"C","w":1,"v":0.377},
{"s":"D","w":0,"v":0.270},{"s":"D","w":0.1,"v":0.276},{"s":"D","w":0.3,"v":0.282},{"s":"D","w":0.6,"v":0.311},{"s":"D","w":1,"v":0.306},
{"s":"E","w":0,"v":0.271},{"s":"E","w":0.1,"v":0.318},{"s":"E","w":0.3,"v":0.333},{"s":"E","w":1,"v":0.340}],
"b2":[{"s":"A","w":0,"v":0.286},{"s":"A","w":0.0001,"v":0.281},{"s":"A","w":0.001,"v":0.278},{"s":"A","w":0.01,"v":0.288},{"s":"A","w":0.1,"v":0.283},{"s":"A","w":0.5,"v":0.286},{"s":"A","w":1,"v":0.295},{"s":"A","w":1.5,"v":0.285},{"s":"A","w":3,"v":0.290},{"s":"A","w":10,"v":0.241},
{"s":"B","w":0,"v":0.290},{"s":"B","w":0.0001,"v":0.290},{"s":"B","w":0.001,"v":0.290},{"s":"B","w":0.01,"v":0.287},{"s":"B","w":0.1,"v":0.290},{"s":"B","w":0.5,"v":0.297},{"s":"B","w":1,"v":0.303},{"s":"B","w":1.5,"v":0.307},{"s":"B","w":3,"v":0.272},{"s":"B","w":10,"v":0.237},
{"s":"C","w":0,"v":0.379},{"s":"C","w":0.1,"v":0.337},{"s":"C","w":1,"v":0.398},
{"s":"D","w":0,"v":0.270},{"s":"D","w":0.1,"v":0.293},{"s":"D","w":0.3,"v":0.296},{"s":"D","w":0.6,"v":0.318},{"s":"D","w":1,"v":0.322},
{"s":"E","w":0,"v":0.289},{"s":"E","w":0.1,"v":0.333},{"s":"E","w":0.3,"v":0.360},{"s":"E","w":1,"v":0.365}],
"b3":[{"s":"A","w":0,"v":0.979},{"s":"A","w":0.0001,"v":0.978},{"s":"A","w":0.001,"v":0.977},{"s":"A","w":0.01,"v":0.982},{"s":"A","w":0.1,"v":0.976},{"s":"A","w":0.5,"v":0.977},{"s":"A","w":1,"v":0.975},{"s":"A","w":1.5,"v":0.971},{"s":"A","w":3,"v":0.980},{"s":"A","w":10,"v":0.984},
{"s":"B","w":0,"v":0.969},{"s":"B","w":0.0001,"v":0.968},{"s":"B","w":0.001,"v":0.962},{"s":"B","w":0.01,"v":0.968},{"s":"B","w":0.1,"v":0.969},{"s":"B","w":0.5,"v":0.961},{"s":"B","w":1,"v":0.963},{"s":"B","w":1.5,"v":0.966},{"s":"B","w":3,"v":0.955},{"s":"B","w":10,"v":0.970},
{"s":"C","w":0,"v":0.959},{"s":"C","w":0.1,"v":0.961},{"s":"C","w":1,"v":0.950},
{"s":"D","w":0,"v":0.962},{"s":"D","w":0.1,"v":0.971},{"s":"D","w":0.3,"v":0.962},{"s":"D","w":0.6,"v":0.965},{"s":"D","w":1,"v":0.961},
{"s":"E","w":0,"v":0.915},{"s":"E","w":0.1,"v":0.955},{"s":"E","w":0.3,"v":0.962},{"s":"E","w":1,"v":0.960}],
"b4":[{"s":"A","w":0,"v":0.269},{"s":"A","w":0.0001,"v":0.267},{"s":"A","w":0.001,"v":0.268},{"s":"A","w":0.01,"v":0.270},{"s":"A","w":0.1,"v":0.270},{"s":"A","w":0.5,"v":0.272},{"s":"A","w":1,"v":0.274},{"s":"A","w":1.5,"v":0.272},{"s":"A","w":3,"v":0.268},{"s":"A","w":10,"v":0.237},
{"s":"B","w":0,"v":0.254},{"s":"B","w":0.0001,"v":0.255},{"s":"B","w":0.001,"v":0.259},{"s":"B","w":0.01,"v":0.264},{"s":"B","w":0.1,"v":0.254},{"s":"B","w":0.5,"v":0.243},{"s":"B","w":1,"v":0.257},{"s":"B","w":1.5,"v":0.272},{"s":"B","w":3,"v":0.238},{"s":"B","w":10,"v":0.238},
{"s":"C","w":0,"v":0.326},{"s":"C","w":0.1,"v":0.303},{"s":"C","w":1,"v":0.348},
{"s":"D","w":0,"v":0.250},{"s":"D","w":0.1,"v":0.255},{"s":"D","w":0.3,"v":0.259},{"s":"D","w":0.6,"v":0.281},{"s":"D","w":1,"v":0.282},
{"s":"E","w":0,"v":0.200},{"s":"E","w":0.1,"v":0.280},{"s":"E","w":0.3,"v":0.316},{"s":"E","w":1,"v":0.313}],
"b5":[{"s":"A","w":0,"v":0.405},{"s":"A","w":0.0001,"v":0.406},{"s":"A","w":0.001,"v":0.403},{"s":"A","w":0.01,"v":0.399},{"s":"A","w":0.1,"v":0.412},{"s":"A","w":0.5,"v":0.418},{"s":"A","w":1,"v":0.417},{"s":"A","w":1.5,"v":0.411},{"s":"A","w":3,"v":0.396},{"s":"A","w":10,"v":0.325},
{"s":"B","w":0,"v":0.418},{"s":"B","w":0.0001,"v":0.420},{"s":"B","w":0.001,"v":0.410},{"s":"B","w":0.01,"v":0.420},{"s":"B","w":0.1,"v":0.424},{"s":"B","w":0.5,"v":0.425},{"s":"B","w":1,"v":0.428},{"s":"B","w":1.5,"v":0.418},{"s":"B","w":3,"v":0.381},{"s":"B","w":10,"v":0.316},
{"s":"C","w":0,"v":0.490},{"s":"C","w":0.1,"v":0.466},{"s":"C","w":1,"v":0.497},
{"s":"D","w":0,"v":0.412},{"s":"D","w":0.1,"v":0.416},{"s":"D","w":0.3,"v":0.425},{"s":"D","w":0.6,"v":0.425},{"s":"D","w":1,"v":0.448},
{"s":"E","w":0,"v":0.397},{"s":"E","w":0.1,"v":0.455},{"s":"E","w":0.3,"v":0.469},{"s":"E","w":1,"v":0.472}],
"b6":[{"s":"A","w":0,"v":-17.5},{"s":"A","w":0.0001,"v":-17.6},{"s":"A","w":0.001,"v":-17.7},{"s":"A","w":0.01,"v":-17.5},{"s":"A","w":0.1,"v":-17.5},{"s":"A","w":0.5,"v":-16.8},{"s":"A","w":1,"v":-16.5},{"s":"A","w":1.5,"v":-16.8},{"s":"A","w":3,"v":-17.5},{"s":"A","w":10,"v":-27.8},
{"s":"B","w":0,"v":-18.0},{"s":"B","w":0.0001,"v":-18.0},{"s":"B","w":0.001,"v":-18.0},{"s":"B","w":0.01,"v":-17.6},{"s":"B","w":0.1,"v":-18.0},{"s":"B","w":0.5,"v":-18.8},{"s":"B","w":1,"v":-18.6},{"s":"B","w":1.5,"v":-18.4},{"s":"B","w":3,"v":-21.0},{"s":"B","w":10,"v":-28.6},
{"s":"C","w":0,"v":-11.3},{"s":"C","w":0.1,"v":-14.0},{"s":"C","w":1,"v":-11.2},
{"s":"D","w":0,"v":-18.5},{"s":"D","w":0.1,"v":-18.2},{"s":"D","w":0.3,"v":-17.2},{"s":"D","w":0.6,"v":-16.0},{"s":"D","w":1,"v":-16.5},
{"s":"E","w":0,"v":-21.0},{"s":"E","w":0.1,"v":-15.0},{"s":"E","w":0.3,"v":-11.5},{"s":"E","w":1,"v":-13.2}],
"c1":[{"s":"A","w":0,"v":0.613},{"s":"A","w":0.0001,"v":0.620},{"s":"A","w":0.001,"v":0.621},{"s":"A","w":0.01,"v":0.621},{"s":"A","w":0.1,"v":0.600},{"s":"A","w":0.5,"v":0.625},{"s":"A","w":1,"v":0.639},{"s":"A","w":1.5,"v":0.625},{"s":"A","w":3,"v":0.614},{"s":"A","w":10,"v":0.541},
{"s":"B","w":0,"v":0.640},{"s":"B","w":0.0001,"v":0.635},{"s":"B","w":0.001,"v":0.631},{"s":"B","w":0.01,"v":0.620},{"s":"B","w":0.1,"v":0.642},{"s":"B","w":0.5,"v":0.641},{"s":"B","w":1,"v":0.654},{"s":"B","w":1.5,"v":0.653},{"s":"B","w":3,"v":0.651},{"s":"B","w":10,"v":0.570},
{"s":"C","w":0,"v":0.675},{"s":"C","w":0.1,"v":0.678},{"s":"C","w":1,"v":0.668},
{"s":"D","w":0,"v":0.650},{"s":"D","w":0.1,"v":0.659},{"s":"D","w":0.3,"v":0.670},{"s":"D","w":0.6,"v":0.662},{"s":"D","w":1,"v":0.684},
{"s":"E","w":0,"v":0.688},{"s":"E","w":0.1,"v":0.694},{"s":"E","w":0.3,"v":0.710},{"s":"E","w":1,"v":0.715}],
"c2":[{"s":"A","w":0,"v":0.607},{"s":"A","w":0.0001,"v":0.601},{"s":"A","w":0.001,"v":0.598},{"s":"A","w":0.01,"v":0.611},{"s":"A","w":0.1,"v":0.568},{"s":"A","w":0.5,"v":0.620},{"s":"A","w":1,"v":0.620},{"s":"A","w":1.5,"v":0.622},{"s":"A","w":3,"v":0.609},{"s":"A","w":10,"v":0.550},
{"s":"B","w":0,"v":0.620},{"s":"B","w":0.0001,"v":0.618},{"s":"B","w":0.001,"v":0.611},{"s":"B","w":0.01,"v":0.613},{"s":"B","w":0.1,"v":0.613},{"s":"B","w":0.5,"v":0.639},{"s":"B","w":1,"v":0.628},{"s":"B","w":1.5,"v":0.630},{"s":"B","w":3,"v":0.616},{"s":"B","w":10,"v":0.552},
{"s":"C","w":0,"v":0.664},{"s":"C","w":0.1,"v":0.661},{"s":"C","w":1,"v":0.665},
{"s":"D","w":0,"v":0.632},{"s":"D","w":0.1,"v":0.655},{"s":"D","w":0.3,"v":0.659},{"s":"D","w":0.6,"v":0.675},{"s":"D","w":1,"v":0.662},
{"s":"E","w":0,"v":0.672},{"s":"E","w":0.1,"v":0.705},{"s":"E","w":0.3,"v":0.716},{"s":"E","w":1,"v":0.718}],
"c3":[{"s":"A","w":0,"v":0.831},{"s":"A","w":0.0001,"v":0.839},{"s":"A","w":0.001,"v":0.817},{"s":"A","w":0.01,"v":0.828},{"s":"A","w":0.1,"v":0.833},{"s":"A","w":0.5,"v":0.824},{"s":"A","w":1,"v":0.830},{"s":"A","w":1.5,"v":0.820},{"s":"A","w":3,"v":0.834},{"s":"A","w":10,"v":0.812},
{"s":"B","w":0,"v":0.820},{"s":"B","w":0.0001,"v":0.837},{"s":"B","w":0.001,"v":0.836},{"s":"B","w":0.01,"v":0.831},{"s":"B","w":0.1,"v":0.832},{"s":"B","w":0.5,"v":0.813},{"s":"B","w":1,"v":0.829},{"s":"B","w":1.5,"v":0.830},{"s":"B","w":3,"v":0.825},{"s":"B","w":10,"v":0.797},
{"s":"C","w":0,"v":0.833},{"s":"C","w":0.1,"v":0.838},{"s":"C","w":0.3,"v":0.838},{"s":"C","w":1,"v":0.839},
{"s":"D","w":0,"v":0.827},{"s":"D","w":0.1,"v":0.844},{"s":"D","w":0.3,"v":0.838},{"s":"D","w":0.6,"v":0.848},{"s":"D","w":1,"v":0.847},
{"s":"E","w":0,"v":0.846},{"s":"E","w":0.1,"v":0.865},{"s":"E","w":0.3,"v":0.856},{"s":"E","w":1,"v":0.860}],
"c4":[{"s":"A","w":0,"v":0.711},{"s":"A","w":0.0001,"v":0.694},{"s":"A","w":0.001,"v":0.719},{"s":"A","w":0.01,"v":0.716},{"s":"A","w":0.1,"v":0.675},{"s":"A","w":0.5,"v":0.730},{"s":"A","w":1,"v":0.729},{"s":"A","w":1.5,"v":0.727},{"s":"A","w":3,"v":0.710},{"s":"A","w":10,"v":0.660},
{"s":"B","w":0,"v":0.733},{"s":"B","w":0.0001,"v":0.720},{"s":"B","w":0.001,"v":0.709},{"s":"B","w":0.01,"v":0.721},{"s":"B","w":0.1,"v":0.727},{"s":"B","w":0.5,"v":0.750},{"s":"B","w":1,"v":0.733},{"s":"B","w":1.5,"v":0.736},{"s":"B","w":3,"v":0.729},{"s":"B","w":10,"v":0.685},
{"s":"C","w":0,"v":0.781},{"s":"C","w":0.1,"v":0.772},{"s":"C","w":0.3,"v":0.772},{"s":"C","w":1,"v":0.772},
{"s":"D","w":0,"v":0.740},{"s":"D","w":0.1,"v":0.748},{"s":"D","w":0.3,"v":0.757},{"s":"D","w":0.6,"v":0.751},{"s":"D","w":1,"v":0.742},
{"s":"E","w":0,"v":0.730},{"s":"E","w":0.1,"v":0.766},{"s":"E","w":0.3,"v":0.791},{"s":"E","w":1,"v":0.781}],
"c5":[{"s":"A","w":0,"v":0.692},{"s":"A","w":0.0001,"v":0.681},{"s":"A","w":0.001,"v":0.685},{"s":"A","w":0.01,"v":0.686},{"s":"A","w":0.1,"v":0.672},{"s":"A","w":0.5,"v":0.698},{"s":"A","w":1,"v":0.710},{"s":"A","w":1.5,"v":0.680},{"s":"A","w":3,"v":0.673},{"s":"A","w":10,"v":0.588},
{"s":"B","w":0,"v":0.692},{"s":"B","w":0.0001,"v":0.698},{"s":"B","w":0.001,"v":0.695},{"s":"B","w":0.01,"v":0.687},{"s":"B","w":0.1,"v":0.706},{"s":"B","w":0.5,"v":0.683},{"s":"B","w":1,"v":0.687},{"s":"B","w":1.5,"v":0.683},{"s":"B","w":3,"v":0.665},{"s":"B","w":10,"v":0.605},
{"s":"C","w":0,"v":0.728},{"s":"C","w":0.1,"v":0.712},{"s":"C","w":1,"v":0.725},
{"s":"D","w":0,"v":0.699},{"s":"D","w":0.1,"v":0.721},{"s":"D","w":0.3,"v":0.708},{"s":"D","w":0.6,"v":0.718},{"s":"D","w":1,"v":0.722},
{"s":"E","w":0,"v":0.721},{"s":"E","w":0.1,"v":0.741},{"s":"E","w":0.3,"v":0.755},{"s":"E","w":1,"v":0.747}],
"c6":[{"s":"A","w":0,"v":-17.2},{"s":"A","w":0.0001,"v":-17.1},{"s":"A","w":0.001,"v":-17.1},{"s":"A","w":0.01,"v":-17.0},{"s":"A","w":0.1,"v":-17.2},{"s":"A","w":0.5,"v":-16.2},{"s":"A","w":1,"v":-16.2},{"s":"A","w":1.5,"v":-16.3},{"s":"A","w":3,"v":-19.0},{"s":"A","w":10,"v":-30.0},
{"s":"B","w":0,"v":-18.4},{"s":"B","w":0.0001,"v":-18.6},{"s":"B","w":0.001,"v":-18.7},{"s":"B","w":0.01,"v":-18.4},{"s":"B","w":0.1,"v":-18.5},{"s":"B","w":0.5,"v":-18.7},{"s":"B","w":1,"v":-19.5},{"s":"B","w":1.5,"v":-20.2},{"s":"B","w":3,"v":-22.3},{"s":"B","w":10,"v":-28.7},
{"s":"C","w":0,"v":-12.5},{"s":"C","w":0.1,"v":-15.5},{"s":"C","w":1,"v":-13.8},
{"s":"D","w":0,"v":-19.0},{"s":"D","w":0.1,"v":-18.2},{"s":"D","w":0.3,"v":-17.2},{"s":"D","w":0.6,"v":-17.0},{"s":"D","w":1,"v":-18.0},
{"s":"E","w":0,"v":-19.5},{"s":"E","w":0.1,"v":-15.2},{"s":"E","w":0.3,"v":-12.8},{"s":"E","w":1,"v":-15.0}],
"d1":[{"s":"A","w":0,"v":0.131},{"s":"A","w":0.0001,"v":0.133},{"s":"A","w":0.001,"v":0.122},{"s":"A","w":0.01,"v":0.099},{"s":"A","w":0.1,"v":0.123},{"s":"A","w":0.5,"v":0.108},{"s":"A","w":1,"v":0.126},{"s":"A","w":1.5,"v":0.123},{"s":"A","w":3,"v":0.103},{"s":"A","w":10,"v":0.096},
{"s":"B","w":0,"v":0.152},{"s":"B","w":0.0001,"v":0.126},{"s":"B","w":0.001,"v":0.145},{"s":"B","w":0.01,"v":0.133},{"s":"B","w":0.1,"v":0.120},{"s":"B","w":0.5,"v":0.143},{"s":"B","w":1,"v":0.153},{"s":"B","w":1.5,"v":0.133},{"s":"B","w":3,"v":0.138},{"s":"B","w":10,"v":0.073},
{"s":"C","w":0,"v":0.185},{"s":"C","w":0.1,"v":0.190},{"s":"C","w":1,"v":0.181},
{"s":"D","w":0,"v":0.171},{"s":"D","w":0.1,"v":0.173},{"s":"D","w":0.3,"v":0.203},{"s":"D","w":0.6,"v":0.208},{"s":"D","w":1,"v":0.181},
{"s":"E","w":0,"v":0.169},{"s":"E","w":0.1,"v":0.244},{"s":"E","w":0.3,"v":0.278},{"s":"E","w":1,"v":0.260}],
"d2":[{"s":"A","w":0,"v":0.114},{"s":"A","w":0.0001,"v":0.146},{"s":"A","w":0.001,"v":0.142},{"s":"A","w":0.01,"v":0.149},{"s":"A","w":0.1,"v":0.127},{"s":"A","w":0.5,"v":0.114},{"s":"A","w":1,"v":0.140},{"s":"A","w":1.5,"v":0.158},{"s":"A","w":3,"v":0.123},{"s":"A","w":10,"v":0.114},
{"s":"B","w":0,"v":0.145},{"s":"B","w":0.0001,"v":0.157},{"s":"B","w":0.001,"v":0.141},{"s":"B","w":0.01,"v":0.142},{"s":"B","w":0.1,"v":0.161},{"s":"B","w":0.5,"v":0.160},{"s":"B","w":1,"v":0.117},{"s":"B","w":1.5,"v":0.148},{"s":"B","w":3,"v":0.133},{"s":"B","w":10,"v":0.120},
{"s":"C","w":0,"v":0.231},{"s":"C","w":0.1,"v":0.236},{"s":"C","w":1,"v":0.229},
{"s":"D","w":0,"v":0.178},{"s":"D","w":0.1,"v":0.228},{"s":"D","w":0.3,"v":0.222},{"s":"D","w":0.6,"v":0.244},{"s":"D","w":1,"v":0.243},
{"s":"E","w":0,"v":0.145},{"s":"E","w":0.1,"v":0.282},{"s":"E","w":0.3,"v":0.349},{"s":"E","w":1,"v":0.321}],
"d3":[{"s":"A","w":0,"v":0.635},{"s":"A","w":0.0001,"v":0.673},{"s":"A","w":0.001,"v":0.640},{"s":"A","w":0.01,"v":0.668},{"s":"A","w":0.1,"v":0.635},{"s":"A","w":0.5,"v":0.570},{"s":"A","w":1,"v":0.545},{"s":"A","w":1.5,"v":0.635},{"s":"A","w":3,"v":0.810},{"s":"A","w":10,"v":0.744},
{"s":"B","w":0,"v":0.633},{"s":"B","w":0.0001,"v":0.675},{"s":"B","w":0.001,"v":0.648},{"s":"B","w":0.01,"v":0.650},{"s":"B","w":0.1,"v":0.778},{"s":"B","w":0.5,"v":0.740},{"s":"B","w":1,"v":0.745},{"s":"B","w":1.5,"v":0.760},{"s":"B","w":3,"v":0.678},{"s":"B","w":10,"v":0.783},
{"s":"C","w":0,"v":0.810},{"s":"C","w":0.1,"v":0.810},{"s":"C","w":1,"v":0.765},
{"s":"D","w":0,"v":0.780},{"s":"D","w":0.1,"v":0.777},{"s":"D","w":0.3,"v":0.762},{"s":"D","w":0.6,"v":0.775},{"s":"D","w":1,"v":0.767},
{"s":"E","w":0,"v":0.655},{"s":"E","w":0.1,"v":0.788},{"s":"E","w":0.3,"v":0.812},{"s":"E","w":1,"v":0.795}],
"d4":[{"s":"A","w":0,"v":0.169},{"s":"A","w":0.0001,"v":0.184},{"s":"A","w":0.001,"v":0.208},{"s":"A","w":0.01,"v":0.190},{"s":"A","w":0.1,"v":0.188},{"s":"A","w":0.5,"v":0.200},{"s":"A","w":1,"v":0.226},{"s":"A","w":1.5,"v":0.207},{"s":"A","w":3,"v":0.139},{"s":"A","w":10,"v":0.120},
{"s":"B","w":0,"v":0.189},{"s":"B","w":0.0001,"v":0.176},{"s":"B","w":0.001,"v":0.174},{"s":"B","w":0.01,"v":0.177},{"s":"B","w":0.1,"v":0.149},{"s":"B","w":0.5,"v":0.168},{"s":"B","w":1,"v":0.137},{"s":"B","w":1.5,"v":0.150},{"s":"B","w":3,"v":0.162},{"s":"B","w":10,"v":0.117},
{"s":"C","w":0,"v":0.199},{"s":"C","w":0.1,"v":0.201},{"s":"C","w":1,"v":0.199},
{"s":"D","w":0,"v":0.152},{"s":"D","w":0.1,"v":0.174},{"s":"D","w":0.3,"v":0.185},{"s":"D","w":0.6,"v":0.215},{"s":"D","w":1,"v":0.217},
{"s":"E","w":0,"v":0.138},{"s":"E","w":0.1,"v":0.213},{"s":"E","w":0.3,"v":0.301},{"s":"E","w":1,"v":0.278}],
"d5":[{"s":"A","w":0,"v":0.170},{"s":"A","w":0.0001,"v":0.172},{"s":"A","w":0.001,"v":0.220},{"s":"A","w":0.01,"v":0.219},{"s":"A","w":0.1,"v":0.220},{"s":"A","w":0.5,"v":0.199},{"s":"A","w":1,"v":0.192},{"s":"A","w":1.5,"v":0.249},{"s":"A","w":3,"v":0.204},{"s":"A","w":10,"v":0.192},
{"s":"B","w":0,"v":0.198},{"s":"B","w":0.0001,"v":0.213},{"s":"B","w":0.001,"v":0.196},{"s":"B","w":0.01,"v":0.218},{"s":"B","w":0.1,"v":0.233},{"s":"B","w":0.5,"v":0.220},{"s":"B","w":1,"v":0.209},{"s":"B","w":1.5,"v":0.233},{"s":"B","w":3,"v":0.210},{"s":"B","w":10,"v":0.176},
{"s":"C","w":0,"v":0.298},{"s":"C","w":0.1,"v":0.300},{"s":"C","w":1,"v":0.312},
{"s":"D","w":0,"v":0.245},{"s":"D","w":0.1,"v":0.265},{"s":"D","w":0.3,"v":0.260},{"s":"D","w":0.6,"v":0.291},{"s":"D","w":1,"v":0.275},
{"s":"E","w":0,"v":0.224},{"s":"E","w":0.1,"v":0.339},{"s":"E","w":0.3,"v":0.365},{"s":"E","w":1,"v":0.355}],
"d6":[{"s":"A","w":0,"v":-20.7},{"s":"A","w":0.0001,"v":-20.7},{"s":"A","w":0.001,"v":-20.9},{"s":"A","w":0.01,"v":-20.9},{"s":"A","w":0.1,"v":-20.8},{"s":"A","w":0.5,"v":-20.5},{"s":"A","w":1,"v":-20.3},{"s":"A","w":1.5,"v":-20.5},{"s":"A","w":3,"v":-20.8},{"s":"A","w":10,"v":-27.0},
{"s":"B","w":0,"v":-21.1},{"s":"B","w":0.0001,"v":-21.2},{"s":"B","w":0.001,"v":-21.4},{"s":"B","w":0.01,"v":-21.3},{"s":"B","w":0.1,"v":-21.2},{"s":"B","w":0.5,"v":-21.7},{"s":"B","w":1,"v":-22.5},{"s":"B","w":1.5,"v":-23.1},{"s":"B","w":3,"v":-23.9},{"s":"B","w":10,"v":-27.6},
{"s":"C","w":0,"v":-18.8},{"s":"C","w":0.1,"v":-19.8},{"s":"C","w":1,"v":-19.8},
{"s":"D","w":0,"v":-22.1},{"s":"D","w":0.1,"v":-21.5},{"s":"D","w":0.3,"v":-21.0},{"s":"D","w":0.6,"v":-20.7},{"s":"D","w":1,"v":-21.0},
{"s":"E","w":0,"v":-23.5},{"s":"E","w":0.1,"v":-19.9},{"s":"E","w":0.3,"v":-17.5},{"s":"E","w":1,"v":-19.5}],
"e1":[{"s":"A","w":0,"v":0.419},{"s":"A","w":0.0001,"v":0.413},{"s":"A","w":0.001,"v":0.426},{"s":"A","w":0.01,"v":0.425},{"s":"A","w":0.1,"v":0.432},{"s":"A","w":0.5,"v":0.450},{"s":"A","w":1,"v":0.458},{"s":"A","w":1.5,"v":0.460},{"s":"A","w":3,"v":0.428},{"s":"A","w":10,"v":0.278},
{"s":"B","w":0,"v":0.468},{"s":"B","w":0.0001,"v":0.461},{"s":"B","w":0.001,"v":0.477},{"s":"B","w":0.01,"v":0.464},{"s":"B","w":0.1,"v":0.472},{"s":"B","w":0.5,"v":0.494},{"s":"B","w":1,"v":0.499},{"s":"B","w":1.5,"v":0.485},{"s":"B","w":3,"v":0.455},{"s":"B","w":10,"v":0.295},
{"s":"C","w":0,"v":0.625},{"s":"C","w":0.1,"v":0.527},{"s":"C","w":1,"v":0.640},
{"s":"D","w":0,"v":0.513},{"s":"D","w":0.1,"v":0.532},{"s":"D","w":0.3,"v":0.573},{"s":"D","w":0.6,"v":0.578},{"s":"D","w":1,"v":0.590},
{"s":"E","w":0,"v":0.628},{"s":"E","w":0.1,"v":0.737},{"s":"E","w":0.3,"v":0.753},{"s":"E","w":1,"v":0.706}],
"e2":[{"s":"A","w":0,"v":0.422},{"s":"A","w":0.0001,"v":0.411},{"s":"A","w":0.001,"v":0.423},{"s":"A","w":0.01,"v":0.420},{"s":"A","w":0.1,"v":0.420},{"s":"A","w":0.5,"v":0.452},{"s":"A","w":1,"v":0.456},{"s":"A","w":1.5,"v":0.467},{"s":"A","w":3,"v":0.420},{"s":"A","w":10,"v":0.262},
{"s":"B","w":0,"v":0.461},{"s":"B","w":0.0001,"v":0.462},{"s":"B","w":0.001,"v":0.475},{"s":"B","w":0.01,"v":0.458},{"s":"B","w":0.1,"v":0.470},{"s":"B","w":0.5,"v":0.498},{"s":"B","w":1,"v":0.501},{"s":"B","w":1.5,"v":0.480},{"s":"B","w":3,"v":0.450},{"s":"B","w":10,"v":0.270},
{"s":"C","w":0,"v":0.627},{"s":"C","w":0.1,"v":0.527},{"s":"C","w":1,"v":0.638},
{"s":"D","w":0,"v":0.512},{"s":"D","w":0.1,"v":0.536},{"s":"D","w":0.3,"v":0.568},{"s":"D","w":0.6,"v":0.583},{"s":"D","w":1,"v":0.590},
{"s":"E","w":0,"v":0.620},{"s":"E","w":0.1,"v":0.735},{"s":"E","w":0.3,"v":0.756},{"s":"E","w":1,"v":0.702}],
"e3":[{"s":"A","w":0,"v":0.858},{"s":"A","w":0.0001,"v":0.869},{"s":"A","w":0.001,"v":0.870},{"s":"A","w":0.01,"v":0.871},{"s":"A","w":0.1,"v":0.869},{"s":"A","w":0.5,"v":0.872},{"s":"A","w":1,"v":0.866},{"s":"A","w":1.5,"v":0.876},{"s":"A","w":3,"v":0.884},{"s":"A","w":10,"v":0.968},
{"s":"B","w":0,"v":0.853},{"s":"B","w":0.0001,"v":0.856},{"s":"B","w":0.001,"v":0.861},{"s":"B","w":0.01,"v":0.843},{"s":"B","w":0.1,"v":0.858},{"s":"B","w":0.5,"v":0.864},{"s":"B","w":1,"v":0.860},{"s":"B","w":1.5,"v":0.869},{"s":"B","w":3,"v":0.886},{"s":"B","w":10,"v":0.948},
{"s":"C","w":0,"v":0.850},{"s":"C","w":0.1,"v":0.839},{"s":"C","w":1,"v":0.855},
{"s":"D","w":0,"v":0.866},{"s":"D","w":0.1,"v":0.872},{"s":"D","w":0.3,"v":0.873},{"s":"D","w":0.6,"v":0.860},{"s":"D","w":1,"v":0.857},
{"s":"E","w":0,"v":0.906},{"s":"E","w":0.1,"v":0.896},{"s":"E","w":0.3,"v":0.894},{"s":"E","w":1,"v":0.884}],
"e4":[{"s":"A","w":0,"v":0.440},{"s":"A","w":0.0001,"v":0.427},{"s":"A","w":0.001,"v":0.432},{"s":"A","w":0.01,"v":0.426},{"s":"A","w":0.1,"v":0.432},{"s":"A","w":0.5,"v":0.463},{"s":"A","w":1,"v":0.478},{"s":"A","w":1.5,"v":0.470},{"s":"A","w":3,"v":0.415},{"s":"A","w":10,"v":0.248},
{"s":"B","w":0,"v":0.502},{"s":"B","w":0.0001,"v":0.496},{"s":"B","w":0.001,"v":0.498},{"s":"B","w":0.01,"v":0.497},{"s":"B","w":0.1,"v":0.500},{"s":"B","w":0.5,"v":0.521},{"s":"B","w":1,"v":0.532},{"s":"B","w":1.5,"v":0.500},{"s":"B","w":3,"v":0.455},{"s":"B","w":10,"v":0.265},
{"s":"C","w":0,"v":0.702},{"s":"C","w":0.1,"v":0.597},{"s":"C","w":1,"v":0.715},
{"s":"D","w":0,"v":0.538},{"s":"D","w":0.1,"v":0.551},{"s":"D","w":0.3,"v":0.608},{"s":"D","w":0.6,"v":0.633},{"s":"D","w":1,"v":0.647},
{"s":"E","w":0,"v":0.638},{"s":"E","w":0.1,"v":0.790},{"s":"E","w":0.3,"v":0.820},{"s":"E","w":1,"v":0.772}],
"e5":[{"s":"A","w":0,"v":0.714},{"s":"A","w":0.0001,"v":0.726},{"s":"A","w":0.001,"v":0.727},{"s":"A","w":0.01,"v":0.722},{"s":"A","w":0.1,"v":0.723},{"s":"A","w":0.5,"v":0.726},{"s":"A","w":1,"v":0.722},{"s":"A","w":1.5,"v":0.731},{"s":"A","w":3,"v":0.722},{"s":"A","w":10,"v":0.610},
{"s":"B","w":0,"v":0.726},{"s":"B","w":0.0001,"v":0.723},{"s":"B","w":0.001,"v":0.729},{"s":"B","w":0.01,"v":0.718},{"s":"B","w":0.1,"v":0.727},{"s":"B","w":0.5,"v":0.730},{"s":"B","w":1,"v":0.735},{"s":"B","w":1.5,"v":0.733},{"s":"B","w":3,"v":0.730},{"s":"B","w":10,"v":0.662},
{"s":"C","w":0,"v":0.763},{"s":"C","w":0.1,"v":0.739},{"s":"C","w":1,"v":0.769},
{"s":"D","w":0,"v":0.745},{"s":"D","w":0.1,"v":0.750},{"s":"D","w":0.3,"v":0.761},{"s":"D","w":0.6,"v":0.756},{"s":"D","w":1,"v":0.752},
{"s":"E","w":0,"v":0.787},{"s":"E","w":0.1,"v":0.808},{"s":"E","w":0.3,"v":0.815},{"s":"E","w":1,"v":0.795}],
"e6":[{"s":"A","w":0,"v":-11.4},{"s":"A","w":0.0001,"v":-11.6},{"s":"A","w":0.001,"v":-11.4},{"s":"A","w":0.01,"v":-11.6},{"s":"A","w":0.1,"v":-11.4},{"s":"A","w":0.5,"v":-10.7},{"s":"A","w":1,"v":-10.5},{"s":"A","w":1.5,"v":-10.8},{"s":"A","w":3,"v":-12.7},{"s":"A","w":10,"v":-24.5},
{"s":"B","w":0,"v":-10.0},{"s":"B","w":0.0001,"v":-10.1},{"s":"B","w":0.001,"v":-10.1},{"s":"B","w":0.01,"v":-10.2},{"s":"B","w":0.1,"v":-10.1},{"s":"B","w":0.5,"v":-9.8},{"s":"B","w":1,"v":-9.6},{"s":"B","w":1.5,"v":-10.0},{"s":"B","w":3,"v":-11.7},{"s":"B","w":10,"v":-20.5},
{"s":"C","w":0,"v":-6.1},{"s":"C","w":0.1,"v":-8.2},{"s":"C","w":1,"v":-5.9},
{"s":"D","w":0,"v":-9.0},{"s":"D","w":0.1,"v":-8.7},{"s":"D","w":0.3,"v":-7.7},{"s":"D","w":0.6,"v":-7.4},{"s":"D","w":1,"v":-7.4},
{"s":"E","w":0,"v":-6.2},{"s":"E","w":0.1,"v":-4.0},{"s":"E","w":0.3,"v":-3.6},{"s":"E","w":1,"v":-4.6}],
"f1":[{"s":"A","w":0,"v":0.0130},{"s":"A","w":0.0001,"v":0.0125},{"s":"A","w":0.001,"v":0.0123},{"s":"A","w":0.01,"v":0.0110},{"s":"A","w":0.1,"v":0.0124},{"s":"A","w":0.5,"v":0.0133},{"s":"A","w":1,"v":0.0170},{"s":"A","w":1.5,"v":0.0130},{"s":"A","w":3,"v":0.0123},{"s":"A","w":10,"v":0.0015},
{"s":"B","w":0,"v":0.0157},{"s":"B","w":0.0001,"v":0.0154},{"s":"B","w":0.001,"v":0.0174},{"s":"B","w":0.01,"v":0.0172},{"s":"B","w":0.1,"v":0.0187},{"s":"B","w":0.5,"v":0.0196},{"s":"B","w":1,"v":0.0187},{"s":"B","w":1.5,"v":0.0192},{"s":"B","w":3,"v":0.0171},{"s":"B","w":10,"v":0.0006},
{"s":"C","w":0,"v":0.0250},{"s":"C","w":0.1,"v":0.0302},{"s":"C","w":1,"v":0.0375},
{"s":"D","w":0,"v":0.0205},{"s":"D","w":0.1,"v":0.0210},{"s":"D","w":0.3,"v":0.0210},{"s":"D","w":0.6,"v":0.0265},{"s":"D","w":1,"v":0.0337},
{"s":"E","w":0,"v":0.0157},{"s":"E","w":0.1,"v":0.0235},{"s":"E","w":0.3,"v":0.0312},{"s":"E","w":1,"v":0.0350}],
"f2":[{"s":"A","w":0,"v":0.0232},{"s":"A","w":0.0001,"v":0.0260},{"s":"A","w":0.001,"v":0.0265},{"s":"A","w":0.01,"v":0.0272},{"s":"A","w":0.1,"v":0.0245},{"s":"A","w":0.5,"v":0.0277},{"s":"A","w":1,"v":0.0265},{"s":"A","w":1.5,"v":0.0275},{"s":"A","w":3,"v":0.0232},{"s":"A","w":10,"v":0.0003},
{"s":"B","w":0,"v":0.0242},{"s":"B","w":0.0001,"v":0.0228},{"s":"B","w":0.001,"v":0.0262},{"s":"B","w":0.01,"v":0.0265},{"s":"B","w":0.1,"v":0.0243},{"s":"B","w":0.5,"v":0.0268},{"s":"B","w":1,"v":0.0222},{"s":"B","w":1.5,"v":0.0155},{"s":"B","w":3,"v":0.0081},{"s":"B","w":10,"v":0.0012},
{"s":"C","w":0,"v":0.0320},{"s":"C","w":0.1,"v":0.0314},{"s":"C","w":1,"v":0.0293},
{"s":"D","w":0,"v":0.0128},{"s":"D","w":0.1,"v":0.0180},{"s":"D","w":0.3,"v":0.0190},{"s":"D","w":0.6,"v":0.0265},{"s":"D","w":1,"v":0.0250},
{"s":"E","w":0,"v":0.0050},{"s":"E","w":0.1,"v":0.0165},{"s":"E","w":0.3,"v":0.0310},{"s":"E","w":1,"v":0.0322}],
"f3":[{"s":"A","w":0,"v":0.143},{"s":"A","w":0.0001,"v":0.145},{"s":"A","w":0.001,"v":0.142},{"s":"A","w":0.01,"v":0.151},{"s":"A","w":0.1,"v":0.145},{"s":"A","w":0.5,"v":0.149},{"s":"A","w":1,"v":0.152},{"s":"A","w":1.5,"v":0.137},{"s":"A","w":3,"v":0.133},{"s":"A","w":10,"v":0.011},
{"s":"B","w":0,"v":0.131},{"s":"B","w":0.0001,"v":0.133},{"s":"B","w":0.001,"v":0.133},{"s":"B","w":0.01,"v":0.133},{"s":"B","w":0.1,"v":0.138},{"s":"B","w":0.5,"v":0.134},{"s":"B","w":1,"v":0.122},{"s":"B","w":1.5,"v":0.102},{"s":"B","w":3,"v":0.082},{"s":"B","w":10,"v":0.018},
{"s":"C","w":0,"v":0.178},{"s":"C","w":0.1,"v":0.165},{"s":"C","w":1,"v":0.175},
{"s":"D","w":0,"v":0.082},{"s":"D","w":0.1,"v":0.098},{"s":"D","w":0.3,"v":0.112},{"s":"D","w":0.6,"v":0.133},{"s":"D","w":1,"v":0.138},
{"s":"E","w":0,"v":0.040},{"s":"E","w":0.1,"v":0.099},{"s":"E","w":0.3,"v":0.152},{"s":"E","w":1,"v":0.166}],
"f4":[{"s":"A","w":0,"v":0.0823},{"s":"A","w":0.0001,"v":0.0828},{"s":"A","w":0.001,"v":0.0848},{"s":"A","w":0.01,"v":0.0823},{"s":"A","w":0.1,"v":0.0823},{"s":"A","w":0.5,"v":0.0823},{"s":"A","w":1,"v":0.0855},{"s":"A","w":1.5,"v":0.0830},{"s":"A","w":3,"v":0.0825},{"s":"A","w":10,"v":0.0643},
{"s":"B","w":0,"v":0.0835},{"s":"B","w":0.0001,"v":0.0838},{"s":"B","w":0.001,"v":0.0858},{"s":"B","w":0.01,"v":0.0838},{"s":"B","w":0.1,"v":0.0850},{"s":"B","w":0.5,"v":0.0833},{"s":"B","w":1,"v":0.0820},{"s":"B","w":1.5,"v":0.0770},{"s":"B","w":3,"v":0.0717},{"s":"B","w":10,"v":0.0662},
{"s":"C","w":0,"v":0.0932},{"s":"C","w":0.1,"v":0.0913},{"s":"C","w":1,"v":0.0885},
{"s":"D","w":0,"v":0.0740},{"s":"D","w":0.1,"v":0.0768},{"s":"D","w":0.3,"v":0.0768},{"s":"D","w":0.6,"v":0.0838},{"s":"D","w":1,"v":0.0843},
{"s":"E","w":0,"v":0.0685},{"s":"E","w":0.1,"v":0.0758},{"s":"E","w":0.3,"v":0.0873},{"s":"E","w":1,"v":0.0880}],
"f5":[{"s":"A","w":0,"v":0.0228},{"s":"A","w":0.0001,"v":0.0233},{"s":"A","w":0.001,"v":0.0222},{"s":"A","w":0.01,"v":0.0220},{"s":"A","w":0.1,"v":0.0210},{"s":"A","w":0.5,"v":0.0235},{"s":"A","w":1,"v":0.0267},{"s":"A","w":1.5,"v":0.0207},{"s":"A","w":3,"v":0.0179},{"s":"A","w":10,"v":0.0008},
{"s":"B","w":0,"v":0.0236},{"s":"B","w":0.0001,"v":0.0242},{"s":"B","w":0.001,"v":0.0269},{"s":"B","w":0.01,"v":0.0224},{"s":"B","w":0.1,"v":0.0225},{"s":"B","w":0.5,"v":0.0240},{"s":"B","w":1,"v":0.0243},{"s":"B","w":1.5,"v":0.0212},{"s":"B","w":3,"v":0.0112},{"s":"B","w":10,"v":0.0033},
{"s":"C","w":0,"v":0.0328},{"s":"C","w":0.1,"v":0.0290},{"s":"C","w":1,"v":0.0355},
{"s":"D","w":0,"v":0.0154},{"s":"D","w":0.1,"v":0.0192},{"s":"D","w":0.3,"v":0.0183},{"s":"D","w":0.6,"v":0.0217},{"s":"D","w":1,"v":0.0232},
{"s":"E","w":0,"v":0.0066},{"s":"E","w":0.1,"v":0.0190},{"s":"E","w":0.3,"v":0.0285},{"s":"E","w":1,"v":0.0335}],
"f6":[{"s":"A","w":0,"v":-19.4},{"s":"A","w":0.0001,"v":-19.4},{"s":"A","w":0.001,"v":-19.5},{"s":"A","w":0.01,"v":-19.4},{"s":"A","w":0.1,"v":-19.2},{"s":"A","w":0.5,"v":-19.0},{"s":"A","w":1,"v":-19.0},{"s":"A","w":1.5,"v":-19.2},{"s":"A","w":3,"v":-20.6},{"s":"A","w":10,"v":-27.6},
{"s":"B","w":0,"v":-23.5},{"s":"B","w":0.0001,"v":-23.5},{"s":"B","w":0.001,"v":-23.3},{"s":"B","w":0.01,"v":-23.1},{"s":"B","w":0.1,"v":-23.0},{"s":"B","w":0.5,"v":-23.8},{"s":"B","w":1,"v":-24.6},{"s":"B","w":1.5,"v":-26.1},{"s":"B","w":3,"v":-27.9},{"s":"B","w":10,"v":-29.3},
{"s":"C","w":0,"v":-20.2},{"s":"C","w":0.1,"v":-21.2},{"s":"C","w":0.3,"v":-21.4},{"s":"C","w":1,"v":-21.6},
{"s":"D","w":0,"v":-23.7},{"s":"D","w":0.1,"v":-22.7},{"s":"D","w":0.3,"v":-21.5},{"s":"D","w":0.6,"v":-21.1},{"s":"D","w":1,"v":-21.1},
{"s":"E","w":0,"v":-27.4},{"s":"E","w":0.1,"v":-23.1},{"s":"E","w":0.3,"v":-19.9},{"s":"E","w":1,"v":-20.3}],
"g1":[{"s":"A","w":0,"v":0.182},{"s":"A","w":0.0001,"v":0.182},{"s":"A","w":0.001,"v":0.185},{"s":"A","w":0.01,"v":0.185},{"s":"A","w":0.1,"v":0.183},{"s":"A","w":0.5,"v":0.191},{"s":"A","w":1,"v":0.204},{"s":"A","w":1.5,"v":0.197},{"s":"A","w":3,"v":0.185},{"s":"A","w":10,"v":0.140},
{"s":"B","w":0,"v":0.205},{"s":"B","w":0.0001,"v":0.202},{"s":"B","w":0.001,"v":0.211},{"s":"B","w":0.01,"v":0.208},{"s":"B","w":0.1,"v":0.207},{"s":"B","w":0.5,"v":0.214},{"s":"B","w":1,"v":0.223},{"s":"B","w":1.5,"v":0.218},{"s":"B","w":3,"v":0.205},{"s":"B","w":10,"v":0.136},
{"s":"C","w":0,"v":0.268},{"s":"C","w":0.1,"v":0.246},{"s":"C","w":1,"v":0.285},
{"s":"D","w":0,"v":0.217},{"s":"D","w":0.1,"v":0.225},{"s":"D","w":0.3,"v":0.239},{"s":"D","w":0.6,"v":0.253},{"s":"D","w":1,"v":0.258},
{"s":"E","w":0,"v":0.238},{"s":"E","w":0.1,"v":0.291},{"s":"E","w":0.3,"v":0.307},{"s":"E","w":1,"v":0.302}],
"g2":[{"s":"A","w":0,"v":0.195},{"s":"A","w":0.0001,"v":0.191},{"s":"A","w":0.001,"v":0.193},{"s":"A","w":0.01,"v":0.195},{"s":"A","w":0.1,"v":0.193},{"s":"A","w":0.5,"v":0.202},{"s":"A","w":1,"v":0.210},{"s":"A","w":1.5,"v":0.208},{"s":"A","w":3,"v":0.193},{"s":"A","w":10,"v":0.135},
{"s":"B","w":0,"v":0.210},{"s":"B","w":0.0001,"v":0.210},{"s":"B","w":0.001,"v":0.214},{"s":"B","w":0.01,"v":0.212},{"s":"B","w":0.1,"v":0.213},{"s":"B","w":0.5,"v":0.224},{"s":"B","w":1,"v":0.226},{"s":"B","w":1.5,"v":0.218},{"s":"B","w":3,"v":0.200},{"s":"B","w":10,"v":0.136},
{"s":"C","w":0,"v":0.285},{"s":"C","w":0.1,"v":0.251},{"s":"C","w":1,"v":0.296},
{"s":"D","w":0,"v":0.215},{"s":"D","w":0.1,"v":0.232},{"s":"D","w":0.3,"v":0.246},{"s":"D","w":0.6,"v":0.262},{"s":"D","w":1,"v":0.265},
{"s":"E","w":0,"v":0.236},{"s":"E","w":0.1,"v":0.298},{"s":"E","w":0.3,"v":0.322},{"s":"E","w":1,"v":0.315}],
"g3":[{"s":"A","w":0,"v":0.524},{"s":"A","w":0.0001,"v":0.525},{"s":"A","w":0.001,"v":0.523},{"s":"A","w":0.01,"v":0.531},{"s":"A","w":0.1,"v":0.525},{"s":"A","w":0.5,"v":0.526},{"s":"A","w":1,"v":0.531},{"s":"A","w":1.5,"v":0.529},{"s":"A","w":3,"v":0.529},{"s":"A","w":10,"v":0.490},
{"s":"B","w":0,"v":0.529},{"s":"B","w":0.0001,"v":0.530},{"s":"B","w":0.001,"v":0.528},{"s":"B","w":0.01,"v":0.528},{"s":"B","w":0.1,"v":0.534},{"s":"B","w":0.5,"v":0.535},{"s":"B","w":1,"v":0.537},{"s":"B","w":1.5,"v":0.535},{"s":"B","w":3,"v":0.513},{"s":"B","w":10,"v":0.490},
{"s":"C","w":0,"v":0.564},{"s":"C","w":0.1,"v":0.553},{"s":"C","w":1,"v":0.569},
{"s":"D","w":0,"v":0.518},{"s":"D","w":0.1,"v":0.528},{"s":"D","w":0.3,"v":0.540},{"s":"D","w":0.6,"v":0.549},{"s":"D","w":1,"v":0.554},
{"s":"E","w":0,"v":0.481},{"s":"E","w":0.1,"v":0.547},{"s":"E","w":0.3,"v":0.575},{"s":"E","w":1,"v":0.577}],
"g4":[{"s":"A","w":0,"v":0.230},{"s":"A","w":0.0001,"v":0.227},{"s":"A","w":0.001,"v":0.230},{"s":"A","w":0.01,"v":0.229},{"s":"A","w":0.1,"v":0.229},{"s":"A","w":0.5,"v":0.238},{"s":"A","w":1,"v":0.249},{"s":"A","w":1.5,"v":0.243},{"s":"A","w":3,"v":0.224},{"s":"A","w":10,"v":0.169},
{"s":"B","w":0,"v":0.249},{"s":"B","w":0.0001,"v":0.248},{"s":"B","w":0.001,"v":0.250},{"s":"B","w":0.01,"v":0.250},{"s":"B","w":0.1,"v":0.250},{"s":"B","w":0.5,"v":0.255},{"s":"B","w":1,"v":0.259},{"s":"B","w":1.5,"v":0.255},{"s":"B","w":3,"v":0.231},{"s":"B","w":10,"v":0.173},
{"s":"C","w":0,"v":0.324},{"s":"C","w":0.1,"v":0.295},{"s":"C","w":1,"v":0.336},
{"s":"D","w":0,"v":0.250},{"s":"D","w":0.1,"v":0.259},{"s":"D","w":0.3,"v":0.279},{"s":"D","w":0.6,"v":0.298},{"s":"D","w":1,"v":0.302},
{"s":"E","w":0,"v":0.256},{"s":"E","w":0.1,"v":0.325},{"s":"E","w":0.3,"v":0.355},{"s":"E","w":1,"v":0.347}],
"g5":[{"s":"A","w":0,"v":0.286},{"s":"A","w":0.0001,"v":0.287},{"s":"A","w":0.001,"v":0.288},{"s":"A","w":0.01,"v":0.286},{"s":"A","w":0.1,"v":0.288},{"s":"A","w":0.5,"v":0.292},{"s":"A","w":1,"v":0.297},{"s":"A","w":1.5,"v":0.294},{"s":"A","w":3,"v":0.283},{"s":"A","w":10,"v":0.227},
{"s":"B","w":0,"v":0.299},{"s":"B","w":0.0001,"v":0.299},{"s":"B","w":0.001,"v":0.297},{"s":"B","w":0.01,"v":0.298},{"s":"B","w":0.1,"v":0.301},{"s":"B","w":0.5,"v":0.305},{"s":"B","w":1,"v":0.310},{"s":"B","w":1.5,"v":0.306},{"s":"B","w":3,"v":0.288},{"s":"B","w":10,"v":0.239},
{"s":"C","w":0,"v":0.344},{"s":"C","w":0.1,"v":0.330},{"s":"C","w":1,"v":0.356},
{"s":"D","w":0,"v":0.300},{"s":"D","w":0.1,"v":0.307},{"s":"D","w":0.3,"v":0.318},{"s":"D","w":0.6,"v":0.325},{"s":"D","w":1,"v":0.331},
{"s":"E","w":0,"v":0.302},{"s":"E","w":0.1,"v":0.346},{"s":"E","w":0.3,"v":0.362},{"s":"E","w":1,"v":0.362}],
"g6":[{"s":"A","w":0,"v":-17.0},{"s":"A","w":0.0001,"v":-17.1},{"s":"A","w":0.001,"v":-17.1},{"s":"A","w":0.01,"v":-17.0},{"s":"A","w":0.1,"v":-16.8},{"s":"A","w":0.5,"v":-16.5},{"s":"A","w":1,"v":-16.1},{"s":"A","w":1.5,"v":-16.4},{"s":"A","w":3,"v":-17.9},{"s":"A","w":10,"v":-26.2},
{"s":"B","w":0,"v":-17.5},{"s":"B","w":0.0001,"v":-17.5},{"s":"B","w":0.001,"v":-17.5},{"s":"B","w":0.01,"v":-17.4},{"s":"B","w":0.1,"v":-17.4},{"s":"B","w":0.5,"v":-17.6},{"s":"B","w":1,"v":-17.8},{"s":"B","w":1.5,"v":-18.3},{"s":"B","w":3,"v":-20.2},{"s":"B","w":10,"v":-26.0},
{"s":"C","w":0,"v":-12.9},{"s":"C","w":0.1,"v":-14.4},{"s":"C","w":1,"v":-13.1},
{"s":"D","w":0,"v":-17.4},{"s":"D","w":0.1,"v":-16.9},{"s":"D","w":0.3,"v":-15.8},{"s":"D","w":0.6,"v":-14.9},{"s":"D","w":1,"v":-14.9},
{"s":"E","w":0,"v":-19.5},{"s":"E","w":0.1,"v":-14.4},{"s":"E","w":0.3,"v":-12.0},{"s":"E","w":1,"v":-12.7}]
}
}
